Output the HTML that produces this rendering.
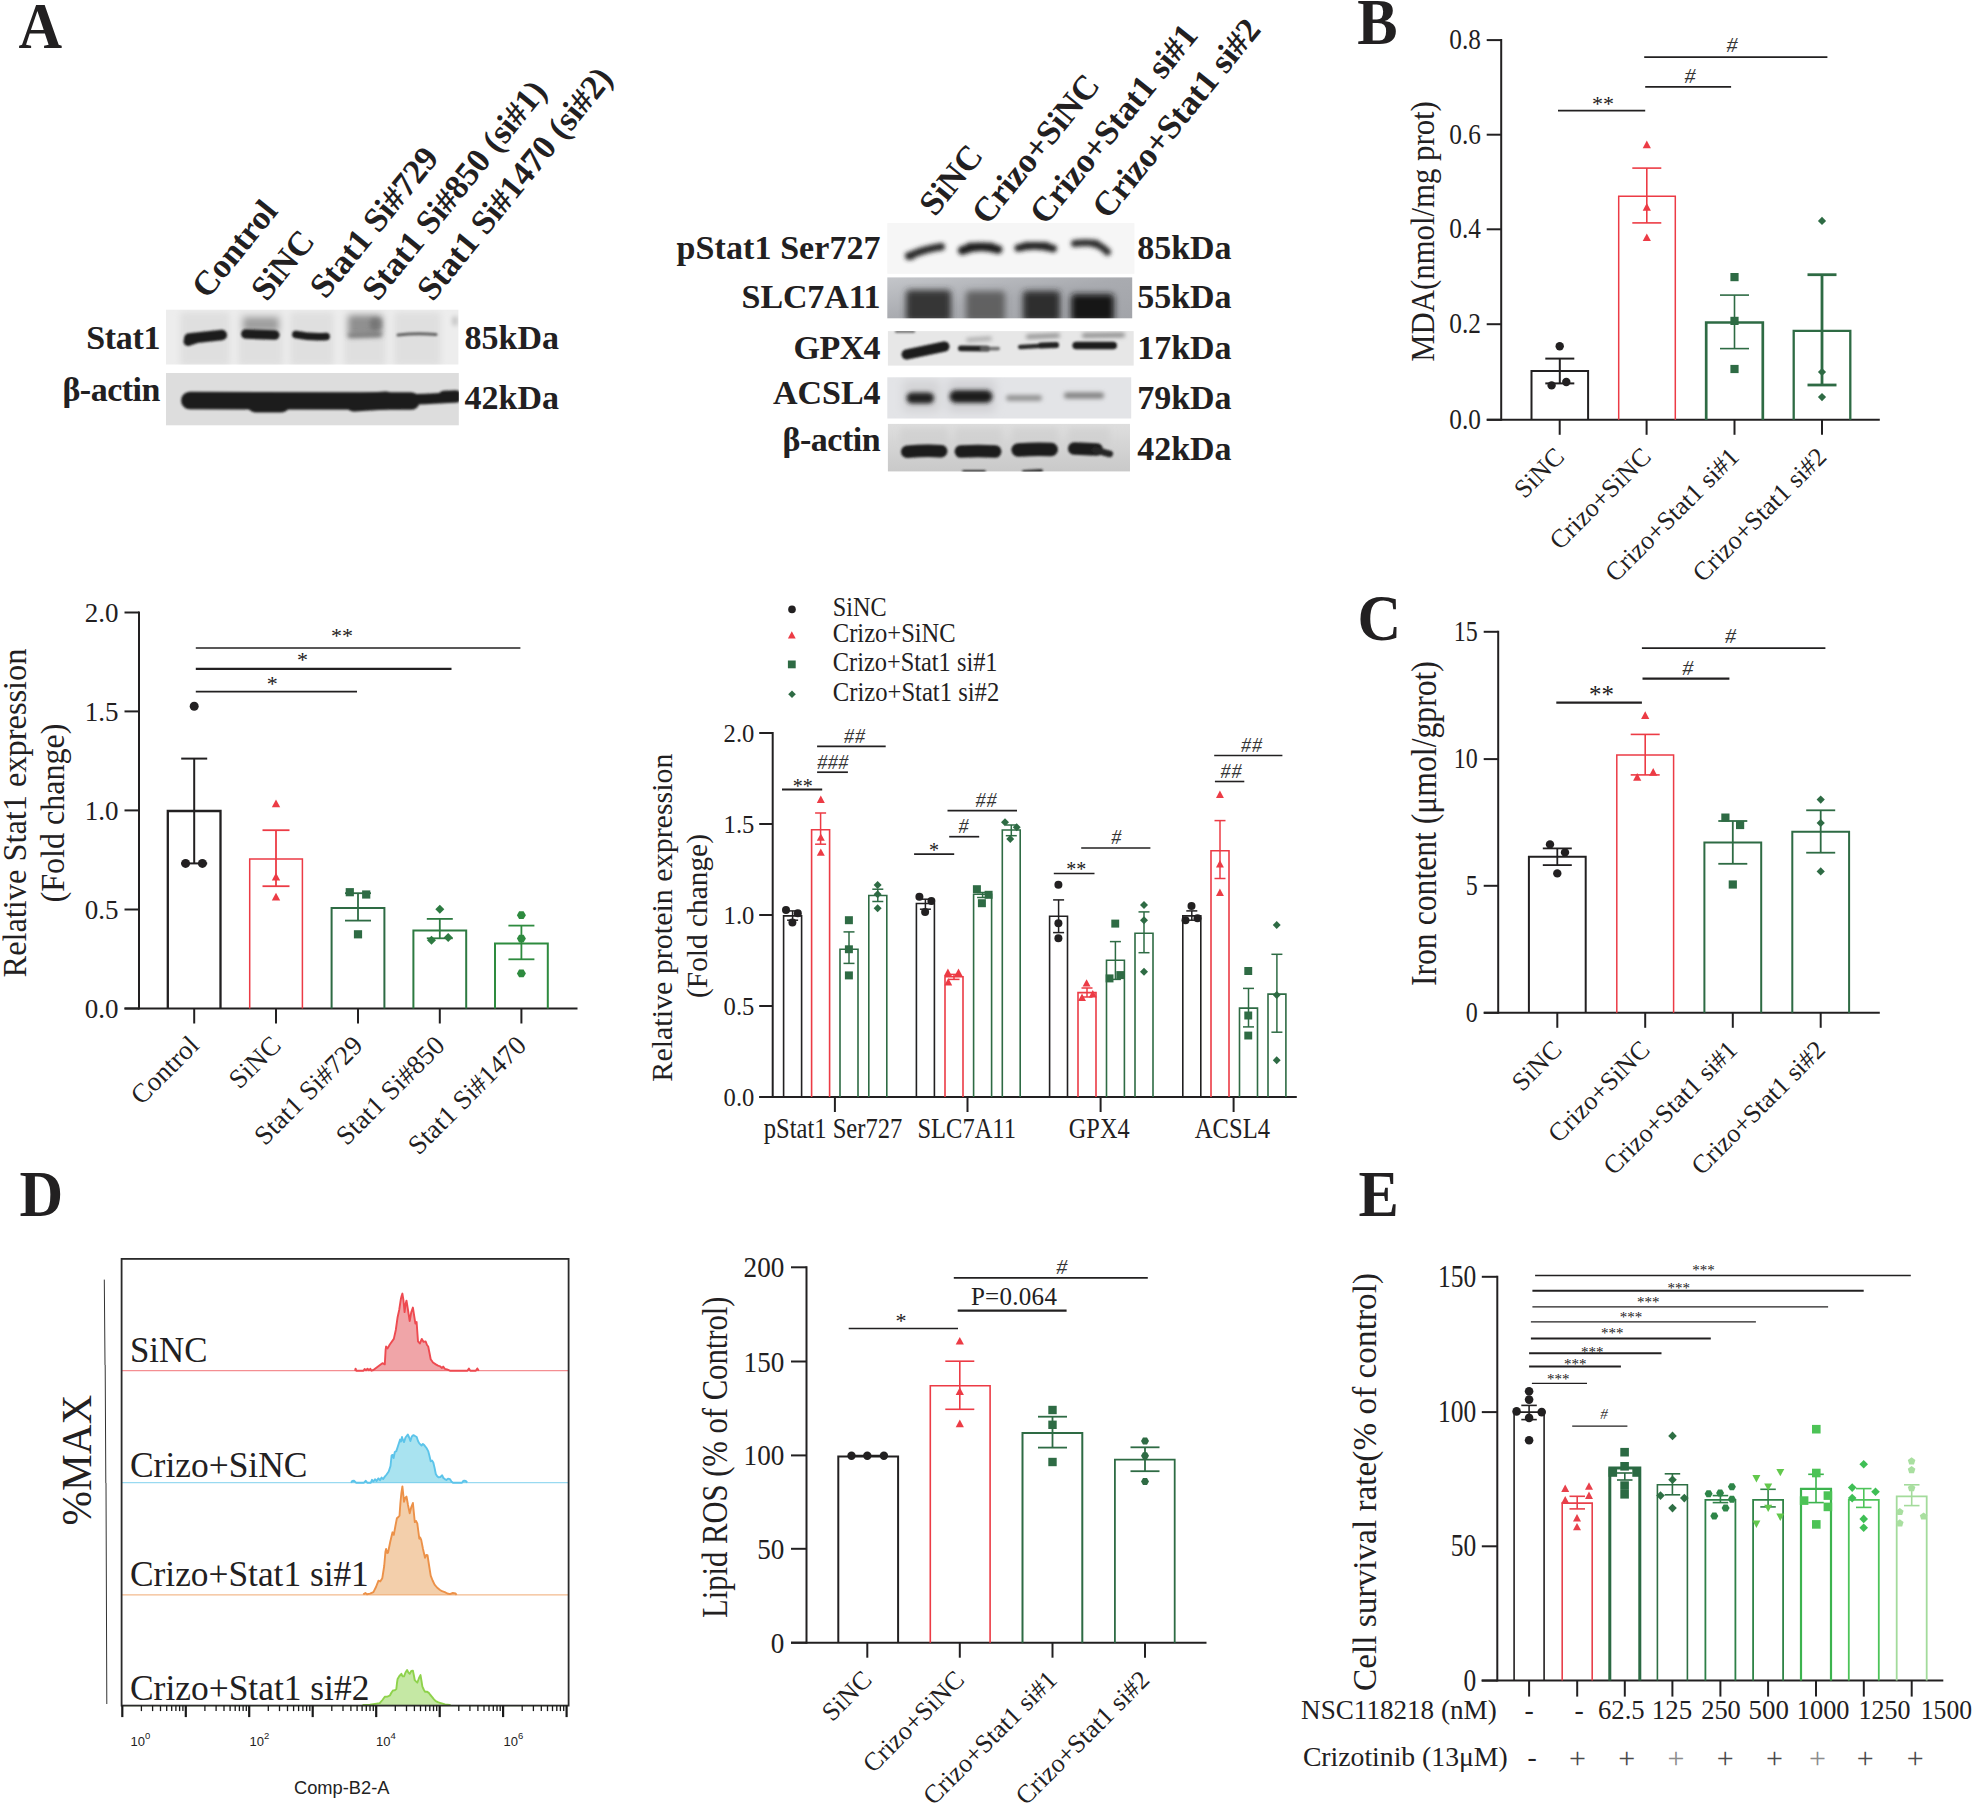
<!DOCTYPE html>
<html lang="en">
<head>
<meta charset="utf-8">
<title>Figure</title>
<style>
html,body{margin:0;padding:0;background:#fff;}
body{width:1975px;height:1804px;overflow:hidden;}
svg{display:block;font-family:'Liberation Serif','Times New Roman',serif;fill:#222021;}
</style>
</head>
<body>
<svg width="1975" height="1804" viewBox="0 0 1975 1804">
<defs>
<filter id="b05" filterUnits="userSpaceOnUse" x="150" y="200" width="1000" height="290"><feGaussianBlur stdDeviation="0.6"/></filter>
<filter id="b1" filterUnits="userSpaceOnUse" x="150" y="200" width="1000" height="290"><feGaussianBlur stdDeviation="1.1"/></filter>
<filter id="b2" filterUnits="userSpaceOnUse" x="150" y="200" width="1000" height="290"><feGaussianBlur stdDeviation="2.0"/></filter>
<filter id="b3" filterUnits="userSpaceOnUse" x="150" y="200" width="1000" height="290"><feGaussianBlur stdDeviation="3.2"/></filter>
<filter id="b5" filterUnits="userSpaceOnUse" x="150" y="200" width="1000" height="290"><feGaussianBlur stdDeviation="5.0"/></filter>
<linearGradient id="gact" x1="0" y1="0" x2="0" y2="1"><stop offset="0" stop-color="#dedede"/><stop offset="1" stop-color="#c9c9c9"/></linearGradient>
<linearGradient id="gslc" x1="0" y1="0" x2="1" y2="1"><stop offset="0" stop-color="#c4c6ca"/><stop offset="0.5" stop-color="#a9abb0"/><stop offset="1" stop-color="#a2a4a9"/></linearGradient>
</defs>
<text transform="translate(18.6,47.5) scale(0.922,1)" font-size="65.5" font-weight="bold">A</text>
<text transform="translate(1357.2,44.2) scale(0.922,1)" font-size="65.5" font-weight="bold">B</text>
<text transform="translate(1357.5,639.6) scale(0.922,1)" font-size="65.5" font-weight="bold">C</text>
<text transform="translate(19.6,1216) scale(0.922,1)" font-size="65.5" font-weight="bold">D</text>
<text transform="translate(1358.4,1216) scale(0.922,1)" font-size="65.5" font-weight="bold">E</text>
<clipPath id="bc1"><rect x="166" y="309.7" width="292.4" height="54.8"/></clipPath>
<rect x="166" y="309.7" width="292.4" height="54.8" fill="#ededed"/>
<g clip-path="url(#bc1)">
<g filter="url(#b3)">
<rect x="180" y="312" width="50" height="54" rx="4" fill="#dcdcdc" opacity="0.8"/>
<rect x="238" y="312" width="45" height="54" rx="4" fill="#dcdcdc" opacity="0.8"/>
<rect x="290" y="312" width="44" height="54" rx="4" fill="#dcdcdc" opacity="0.8"/>
<rect x="344" y="312" width="42" height="54" rx="4" fill="#dcdcdc" opacity="0.8"/>
<rect x="394" y="312" width="47" height="54" rx="4" fill="#dcdcdc" opacity="0.8"/>
<rect x="243" y="317" width="36" height="15" rx="4" fill="#8a8a8a" opacity="0.75"/>
<rect x="348" y="315" width="34" height="21" rx="4" fill="#8c8c8c" opacity="0.95"/>
</g>
<g filter="url(#b2)">
<rect x="370" y="318" width="12" height="12" rx="4" fill="#666" opacity="0.6"/>
</g>
<g filter="url(#b1)">
<path d="M189.2 338.5 Q205.5 336.8 221.8 335" fill="none" stroke="#1e1e1e" stroke-width="10.5" stroke-linecap="round" opacity="1.0"/>
<path d="M188 341.5 Q191.8 340.2 195.5 339" fill="none" stroke="#1e1e1e" stroke-width="9" stroke-linecap="round" opacity="1.0"/>
<path d="M245.8 334 Q260.2 334.5 274.8 335" fill="none" stroke="#1e1e1e" stroke-width="9.5" stroke-linecap="round" opacity="1.0"/>
<path d="M295.8 334.5 Q311 337.5 326.2 336.5" fill="none" stroke="#1e1e1e" stroke-width="7.5" stroke-linecap="round" opacity="1.0"/>
</g>
<g filter="url(#b2)">
<path d="M349.8 335.5 Q364.8 335 379.8 334.5" fill="none" stroke="#707070" stroke-width="4.5" stroke-linecap="round" opacity="0.9"/>
</g>
<g filter="url(#b1)">
<path d="M398.1 335 Q417 332.8 435.9 334.5" fill="none" stroke="#555" stroke-width="3.2" stroke-linecap="round" opacity="0.9"/>
</g>
<g filter="url(#b2)">
<rect x="452" y="316" width="6" height="10" rx="4" fill="#bdbdbd" opacity="0.8"/>
</g>
</g>
<clipPath id="bc2"><rect x="166" y="373" width="292.8" height="52.3"/></clipPath>
<rect x="166" y="373" width="292.8" height="52.3" fill="#dddddd"/>
<g clip-path="url(#bc2)">
<g filter="url(#b1)">
<path d="M189.8 400.5 Q300.5 400.8 411.2 401" fill="none" stroke="#1f1f1f" stroke-width="17.5" stroke-linecap="round" opacity="1.0"/>
<path d="M255.5 404 Q268.5 404 281.5 404" fill="none" stroke="#1f1f1f" stroke-width="17" stroke-linecap="round" opacity="1.0"/>
<path d="M354 402.5 Q370 401.5 386 400.5" fill="none" stroke="#1f1f1f" stroke-width="18" stroke-linecap="round" opacity="1.0"/>
<path d="M385.2 399.6 Q421 400 456.8 397.2" fill="none" stroke="#1f1f1f" stroke-width="10.5" stroke-linecap="round" opacity="1.0"/>
<path d="M444 396.8 Q450 396.5 456 396.2" fill="none" stroke="#1f1f1f" stroke-width="12" stroke-linecap="round" opacity="1.0"/>
</g>
</g>
<text transform="translate(160.4,349.3)" font-size="34" text-anchor="end" font-weight="bold" textLength="74.2" lengthAdjust="spacing">Stat1</text>
<text transform="translate(160.4,401)" font-size="34" text-anchor="end" font-weight="bold" textLength="98" lengthAdjust="spacing">β-actin</text>
<text transform="translate(464.6,349.3)" font-size="34" font-weight="bold" textLength="94.3" lengthAdjust="spacing">85kDa</text>
<text transform="translate(464.6,409.4)" font-size="34" font-weight="bold" textLength="94.3" lengthAdjust="spacing">42kDa</text>
<text transform="translate(207.5,300.1) rotate(-51)" font-size="34.3" font-weight="bold">Control</text>
<text transform="translate(266.8,302.5) rotate(-51)" font-size="34.3" font-weight="bold">SiNC</text>
<text transform="translate(325.5,300.1) rotate(-51)" font-size="34.3" font-weight="bold">Stat1 Si#729</text>
<text transform="translate(377.8,302.3) rotate(-51)" font-size="34.3" font-weight="bold">Stat1 Si#850 (si#1)</text>
<text transform="translate(432.8,302.5) rotate(-51)" font-size="34.3" font-weight="bold">Stat1 Si#1470 (si#2)</text>
<clipPath id="bc3"><rect x="887.3" y="223.1" width="247.1" height="50.7"/></clipPath>
<rect x="887.3" y="223.1" width="247.1" height="50.7" fill="#f6f6f6"/>
<g clip-path="url(#bc3)">
<g filter="url(#b2)">
<path d="M908.8 256 Q925 249 941.2 246.8" fill="none" stroke="#2c2c2c" stroke-width="7.5" stroke-linecap="round" opacity="1.0"/>
<rect x="905" y="252" width="10" height="8" rx="4" fill="#2a2a2a" opacity="0.8"/>
<path d="M962.2 250.5 Q980.2 243.6 998.2 249.5" fill="none" stroke="#1c1c1c" stroke-width="8.5" stroke-linecap="round" opacity="1.0"/>
<path d="M969.5 246.2 Q980.5 246.2 991.5 246.2" fill="none" stroke="#1c1c1c" stroke-width="7" stroke-linecap="round" opacity="1.0"/>
<path d="M1018.2 248 Q1035.8 243.1 1053.2 248.5" fill="none" stroke="#222" stroke-width="7.5" stroke-linecap="round" opacity="1.0"/>
<path d="M1025 245.2 Q1036 245.2 1047 245.2" fill="none" stroke="#222" stroke-width="6" stroke-linecap="round" opacity="1.0"/>
<path d="M1074.5 243.5 Q1085.5 241.9 1096.5 243.5" fill="none" stroke="#2e2e2e" stroke-width="7" stroke-linecap="round" opacity="1.0"/>
<path d="M1093.5 243.8 Q1100.5 244.9 1107.5 252" fill="none" stroke="#2e2e2e" stroke-width="7" stroke-linecap="round" opacity="1.0"/>
</g>
</g>
<clipPath id="bc4"><rect x="887.3" y="277.4" width="244.9" height="40.9"/></clipPath>
<rect x="887.3" y="277.4" width="244.9" height="40.9" fill="url(#gslc)"/>
<g clip-path="url(#bc4)">
<g filter="url(#b3)">
<rect x="906" y="290" width="45" height="32" rx="4" fill="#2e2e2e" opacity="0.95"/>
<rect x="966" y="291" width="39" height="31" rx="4" fill="#5a5a5a" opacity="0.9"/>
<rect x="1023" y="291" width="37" height="31" rx="4" fill="#262626" opacity="0.95"/>
<rect x="1071" y="294" width="43" height="28" rx="4" fill="#161616" opacity="1.0"/>
</g>
</g>
<clipPath id="bc5"><rect x="887.9" y="331.1" width="245.8" height="34.5"/></clipPath>
<rect x="887.9" y="331.1" width="245.8" height="34.5" fill="#e7e7e7"/>
<g clip-path="url(#bc5)">
<g filter="url(#b1)">
<path d="M906.5 354.5 Q925.5 350.5 944.5 346.5" fill="none" stroke="#1c1c1c" stroke-width="10" stroke-linecap="round" opacity="1.0"/>
<path d="M960.9 348.3 Q974 348.5 987.1 348.6" fill="none" stroke="#222" stroke-width="5.8" stroke-linecap="round" opacity="1.0"/>
<path d="M981.8 348.6 Q990 348.6 998.2 348.6" fill="none" stroke="#666" stroke-width="3.6" stroke-linecap="round" opacity="0.9"/>
<path d="M1020.2 347 Q1038.5 346 1056.8 345" fill="none" stroke="#2a2a2a" stroke-width="4.5" stroke-linecap="round" opacity="1.0"/>
<path d="M1041 345.5 Q1048.5 345.2 1056 345" fill="none" stroke="#222" stroke-width="6" stroke-linecap="round" opacity="1.0"/>
<path d="M1076.2 345.5 Q1094.8 345.5 1113.2 345.5" fill="none" stroke="#1c1c1c" stroke-width="7.5" stroke-linecap="round" opacity="1.0"/>
</g>
<g filter="url(#b2)">
<path d="M1028 336.8 Q1043 336.2 1058 335.6" fill="none" stroke="#7d7d7d" stroke-width="4" stroke-linecap="round" opacity="0.9"/>
<path d="M1084 335.6 Q1103.5 335.3 1123 335" fill="none" stroke="#747474" stroke-width="4" stroke-linecap="round" opacity="0.9"/>
<path d="M967.8 340 Q979 339.3 990.2 338.6" fill="none" stroke="#9a9a9a" stroke-width="3.5" stroke-linecap="round" opacity="0.9"/>
</g>
<g filter="url(#b1)">
<path d="M896.2 331.5 Q905 331.5 913.8 331.5" fill="none" stroke="#555" stroke-width="2.5" stroke-linecap="round" opacity="0.9"/>
</g>
</g>
<clipPath id="bc6"><rect x="887.3" y="377.3" width="243.9" height="41.2"/></clipPath>
<rect x="887.3" y="377.3" width="243.9" height="41.2" fill="#e3e4e7"/>
<g clip-path="url(#bc6)">
<g filter="url(#b5)">
<rect x="903" y="380" width="37" height="32" rx="4" fill="#cfcfd2" opacity="0.8"/>
<rect x="948" y="380" width="47" height="32" rx="4" fill="#cccccf" opacity="0.8"/>
</g>
<g filter="url(#b2)">
<path d="M912 398 Q920.2 398 928.5 398" fill="none" stroke="#222" stroke-width="11" stroke-linecap="round" opacity="1.0"/>
<path d="M955.8 396.5 Q971 396.5 986.2 396.5" fill="none" stroke="#1c1c1c" stroke-width="12.5" stroke-linecap="round" opacity="1.0"/>
<path d="M1008.8 398 Q1024 398 1039.2 398" fill="none" stroke="#8e8e8e" stroke-width="5.5" stroke-linecap="round" opacity="1.0"/>
<path d="M1067 395.5 Q1084 395.5 1101 395.5" fill="none" stroke="#808080" stroke-width="6" stroke-linecap="round" opacity="1.0"/>
</g>
</g>
<clipPath id="bc7"><rect x="887.9" y="423.9" width="242.1" height="47.5"/></clipPath>
<rect x="887.9" y="423.9" width="242.1" height="47.5" fill="url(#gact)"/>
<g clip-path="url(#bc7)">
<g filter="url(#b3)">
<rect x="900" y="428" width="48" height="18" rx="4" fill="#cfcfcf" opacity="0.7"/>
<rect x="955" y="428" width="47" height="18" rx="4" fill="#cfcfcf" opacity="0.7"/>
<rect x="1012" y="428" width="46" height="18" rx="4" fill="#cfcfcf" opacity="0.7"/>
<rect x="1068" y="428" width="42" height="18" rx="4" fill="#cfcfcf" opacity="0.7"/>
</g>
<g filter="url(#b1)">
<path d="M907.2 451.8 Q924.2 450.3 941.2 451.2" fill="none" stroke="#1c1c1c" stroke-width="12.5" stroke-linecap="round" opacity="1.0"/>
<path d="M960.8 451.5 Q978 450.5 995.2 451.5" fill="none" stroke="#1c1c1c" stroke-width="12.5" stroke-linecap="round" opacity="1.0"/>
<path d="M1018.2 450 Q1034.8 448.8 1051.2 449.5" fill="none" stroke="#1c1c1c" stroke-width="13.5" stroke-linecap="round" opacity="1.0"/>
<path d="M1074.2 448.5 Q1085.5 449 1096.8 449.5" fill="none" stroke="#1c1c1c" stroke-width="12.5" stroke-linecap="round" opacity="1.0"/>
<path d="M1095.2 450 Q1102.5 452 1109.8 454" fill="none" stroke="#262626" stroke-width="6.5" stroke-linecap="round" opacity="1.0"/>
<path d="M964 472 Q974 472 984 472" fill="none" stroke="#333" stroke-width="4" stroke-linecap="round" opacity="1.0"/>
<path d="M1024 472 Q1032.5 471.5 1041 471" fill="none" stroke="#333" stroke-width="4" stroke-linecap="round" opacity="1.0"/>
</g>
</g>
<text transform="translate(880.6,259)" font-size="34" text-anchor="end" font-weight="bold" textLength="204" lengthAdjust="spacing">pStat1 Ser727</text>
<text transform="translate(880.6,308)" font-size="34" text-anchor="end" font-weight="bold" textLength="139" lengthAdjust="spacing">SLC7A11</text>
<text transform="translate(880.6,359.3)" font-size="34" text-anchor="end" font-weight="bold" textLength="87" lengthAdjust="spacing">GPX4</text>
<text transform="translate(880.6,404.4)" font-size="34" text-anchor="end" font-weight="bold" textLength="107.5" lengthAdjust="spacing">ACSL4</text>
<text transform="translate(880.6,451.2)" font-size="34" text-anchor="end" font-weight="bold" textLength="98" lengthAdjust="spacing">β-actin</text>
<text transform="translate(1137.3,259)" font-size="34" font-weight="bold" textLength="94.3" lengthAdjust="spacing">85kDa</text>
<text transform="translate(1137.3,308)" font-size="34" font-weight="bold" textLength="94.3" lengthAdjust="spacing">55kDa</text>
<text transform="translate(1137.3,359.3)" font-size="34" font-weight="bold" textLength="94.3" lengthAdjust="spacing">17kDa</text>
<text transform="translate(1137.3,409.4)" font-size="34" font-weight="bold" textLength="94.3" lengthAdjust="spacing">79kDa</text>
<text transform="translate(1137.3,459.6)" font-size="34" font-weight="bold" textLength="94.3" lengthAdjust="spacing">42kDa</text>
<text transform="translate(935,217.5) rotate(-51)" font-size="34.5" font-weight="bold">SiNC</text>
<text transform="translate(987.4,226.2) rotate(-51)" font-size="34.5" font-weight="bold">Crizo+SiNC</text>
<text transform="translate(1045.4,226.2) rotate(-51)" font-size="34.5" font-weight="bold">Crizo+Stat1 si#1</text>
<text transform="translate(1108,220.5) rotate(-51)" font-size="34.5" font-weight="bold">Crizo+Stat1 si#2</text>
<line x1="139" y1="611.5" x2="139" y2="1009.5" stroke="#222021" stroke-width="2"/>
<line x1="124.5" y1="1008.5" x2="577.5" y2="1008.5" stroke="#222021" stroke-width="2"/>
<line x1="124.5" y1="612.5" x2="139" y2="612.5" stroke="#222021" stroke-width="2"/>
<text transform="translate(118.6,621.7)" font-size="27" text-anchor="end">2.0</text>
<line x1="124.5" y1="711.4" x2="139" y2="711.4" stroke="#222021" stroke-width="2"/>
<text transform="translate(118.6,720.6)" font-size="27" text-anchor="end">1.5</text>
<line x1="124.5" y1="810.4" x2="139" y2="810.4" stroke="#222021" stroke-width="2"/>
<text transform="translate(118.6,819.6)" font-size="27" text-anchor="end">1.0</text>
<line x1="124.5" y1="909.5" x2="139" y2="909.5" stroke="#222021" stroke-width="2"/>
<text transform="translate(118.6,918.7)" font-size="27" text-anchor="end">0.5</text>
<line x1="124.5" y1="1008.5" x2="139" y2="1008.5" stroke="#222021" stroke-width="2"/>
<text transform="translate(118.6,1017.7)" font-size="27" text-anchor="end">0.0</text>
<line x1="194.2" y1="1008.5" x2="194.2" y2="1023.5" stroke="#222021" stroke-width="2"/>
<line x1="276" y1="1008.5" x2="276" y2="1023.5" stroke="#222021" stroke-width="2"/>
<line x1="358" y1="1008.5" x2="358" y2="1023.5" stroke="#222021" stroke-width="2"/>
<line x1="439.8" y1="1008.5" x2="439.8" y2="1023.5" stroke="#222021" stroke-width="2"/>
<line x1="521.4" y1="1008.5" x2="521.4" y2="1023.5" stroke="#222021" stroke-width="2"/>
<line x1="194.2" y1="758.6" x2="194.2" y2="863.4" stroke="#222021" stroke-width="2"/>
<line x1="181.2" y1="758.6" x2="207.2" y2="758.6" stroke="#222021" stroke-width="2"/>
<line x1="181.2" y1="863.4" x2="207.2" y2="863.4" stroke="#222021" stroke-width="2"/>
<path d="M167.8 1008.5 V811 H220.5 V1008.5" fill="none" stroke="#222021" stroke-width="2.3"/>
<circle cx="194.2" cy="706.3" r="4.5" fill="#222021"/>
<circle cx="185.6" cy="863.4" r="4.5" fill="#222021"/>
<circle cx="202.4" cy="863.4" r="4.5" fill="#222021"/>
<path d="M249.7 1008.5 V859 H302.4 V1008.5" fill="none" stroke="#ec3b45" stroke-width="1.5"/>
<line x1="276" y1="830.2" x2="276" y2="886.2" stroke="#ec3b45" stroke-width="1.8"/>
<line x1="262.5" y1="830.2" x2="289.5" y2="830.2" stroke="#ec3b45" stroke-width="1.8"/>
<line x1="262.5" y1="886.2" x2="289.5" y2="886.2" stroke="#ec3b45" stroke-width="1.8"/>
<polygon points="276,799.4 280.2,807.2 271.8,807.2" fill="#ec3b45"/>
<polygon points="276,872.8 280.2,880.6 271.8,880.6" fill="#ec3b45"/>
<polygon points="276,892.8 280.2,900.6 271.8,900.6" fill="#ec3b45"/>
<path d="M331.6 1008.5 V908 H384.4 V1008.5" fill="none" stroke="#2e6b44" stroke-width="2"/>
<line x1="358" y1="893.2" x2="358" y2="920.6" stroke="#2e6b44" stroke-width="1.8"/>
<line x1="345" y1="893.2" x2="371" y2="893.2" stroke="#2e6b44" stroke-width="1.8"/>
<line x1="345" y1="920.6" x2="371" y2="920.6" stroke="#2e6b44" stroke-width="1.8"/>
<polygon points="345.7,888.1 353.9,888.1 353.9,896.3 345.7,896.3" fill="#2e6b44"/>
<polygon points="362.1,890.4 370.3,890.4 370.3,898.6 362.1,898.6" fill="#2e6b44"/>
<polygon points="353.9,930.2 362.1,930.2 362.1,938.4 353.9,938.4" fill="#2e6b44"/>
<path d="M413.4 1008.5 V930.4 H466.2 V1008.5" fill="none" stroke="#2d7a41" stroke-width="2"/>
<line x1="439.8" y1="918.9" x2="439.8" y2="938.3" stroke="#2d7a41" stroke-width="1.8"/>
<line x1="426.8" y1="918.9" x2="452.8" y2="918.9" stroke="#2d7a41" stroke-width="1.8"/>
<line x1="426.8" y1="938.3" x2="452.8" y2="938.3" stroke="#2d7a41" stroke-width="1.8"/>
<polygon points="439.8,904.7 444.3,909.2 439.8,913.7 435.3,909.2" fill="#2d7a41"/>
<polygon points="431.5,935.8 436,940.3 431.5,944.8 427,940.3" fill="#2d7a41"/>
<polygon points="448.2,933.1 452.7,937.6 448.2,942.1 443.7,937.6" fill="#2d7a41"/>
<path d="M495 1008.5 V943.6 H547.8 V1008.5" fill="none" stroke="#2e8b3f" stroke-width="2"/>
<line x1="521.4" y1="925.6" x2="521.4" y2="959.3" stroke="#2e8b3f" stroke-width="1.8"/>
<line x1="508.4" y1="925.6" x2="534.4" y2="925.6" stroke="#2e8b3f" stroke-width="1.8"/>
<line x1="508.4" y1="959.3" x2="534.4" y2="959.3" stroke="#2e8b3f" stroke-width="1.8"/>
<polygon points="525.9,915.2 523.6,919.1 519.1,919.1 516.9,915.2 519.1,911.3 523.6,911.3" fill="#2e8b3f"/>
<polygon points="525.9,938.6 523.6,942.5 519.1,942.5 516.9,938.6 519.1,934.7 523.6,934.7" fill="#2e8b3f"/>
<polygon points="525.9,973.4 523.6,977.3 519.1,977.3 516.9,973.4 519.1,969.5 523.6,969.5" fill="#2e8b3f"/>
<line x1="195.8" y1="647.9" x2="520.4" y2="647.9" stroke="#222021" stroke-width="1.5"/>
<text transform="translate(342,643)" font-size="22" text-anchor="middle">**</text>
<line x1="195.8" y1="668.8" x2="451.5" y2="668.8" stroke="#222021" stroke-width="2.3"/>
<text transform="translate(302.6,667)" font-size="22" text-anchor="middle">*</text>
<line x1="195.8" y1="691.6" x2="357" y2="691.6" stroke="#222021" stroke-width="1.7"/>
<text transform="translate(272.3,690.5)" font-size="22" text-anchor="middle">*</text>
<text transform="translate(200.6,1047) rotate(-45)" font-size="27" text-anchor="end" textLength="83.6" lengthAdjust="spacing">Control</text>
<text transform="translate(282.4,1047) rotate(-45)" font-size="27" text-anchor="end" textLength="60.8" lengthAdjust="spacing">SiNC</text>
<text transform="translate(364.4,1047) rotate(-45)" font-size="27" text-anchor="end" textLength="140.6" lengthAdjust="spacing">Stat1 Si#729</text>
<text transform="translate(446.2,1047) rotate(-45)" font-size="27" text-anchor="end" textLength="140.6" lengthAdjust="spacing">Stat1 Si#850</text>
<text transform="translate(527.8,1047) rotate(-45)" font-size="27" text-anchor="end" textLength="154.3" lengthAdjust="spacing">Stat1 Si#1470</text>
<text transform="translate(25.9,813) rotate(-90) scale(0.981,1)" font-size="33" text-anchor="middle">Relative Stat1 expression</text>
<text transform="translate(64.3,813) rotate(-90) scale(0.972,1)" font-size="33" text-anchor="middle">(Fold change)</text>
<line x1="772.7" y1="732" x2="772.7" y2="1098" stroke="#222021" stroke-width="2"/>
<line x1="759.4" y1="1097" x2="1296.8" y2="1097" stroke="#222021" stroke-width="2"/>
<line x1="759.2" y1="733" x2="772.7" y2="733" stroke="#222021" stroke-width="2"/>
<text transform="translate(754.3,741.6) scale(0.945,1)" font-size="26" text-anchor="end">2.0</text>
<line x1="759.2" y1="824" x2="772.7" y2="824" stroke="#222021" stroke-width="2"/>
<text transform="translate(754.3,832.6) scale(0.945,1)" font-size="26" text-anchor="end">1.5</text>
<line x1="759.2" y1="915" x2="772.7" y2="915" stroke="#222021" stroke-width="2"/>
<text transform="translate(754.3,923.6) scale(0.945,1)" font-size="26" text-anchor="end">1.0</text>
<line x1="759.2" y1="1006" x2="772.7" y2="1006" stroke="#222021" stroke-width="2"/>
<text transform="translate(754.3,1014.6) scale(0.945,1)" font-size="26" text-anchor="end">0.5</text>
<line x1="759.2" y1="1097" x2="772.7" y2="1097" stroke="#222021" stroke-width="2"/>
<text transform="translate(754.3,1105.6) scale(0.945,1)" font-size="26" text-anchor="end">0.0</text>
<line x1="834.9" y1="1097" x2="834.9" y2="1112" stroke="#222021" stroke-width="2"/>
<line x1="967.5" y1="1097" x2="967.5" y2="1112" stroke="#222021" stroke-width="2"/>
<line x1="1100.6" y1="1097" x2="1100.6" y2="1112" stroke="#222021" stroke-width="2"/>
<line x1="1233.6" y1="1097" x2="1233.6" y2="1112" stroke="#222021" stroke-width="2"/>
<path d="M783.6 1097 V915.9 H801.6 V1097" fill="none" stroke="#222021" stroke-width="1.6"/>
<line x1="792.6" y1="910.9" x2="792.6" y2="920.2" stroke="#222021" stroke-width="1.5"/>
<line x1="787.1" y1="910.9" x2="798.1" y2="910.9" stroke="#222021" stroke-width="1.5"/>
<line x1="787.1" y1="920.2" x2="798.1" y2="920.2" stroke="#222021" stroke-width="1.5"/>
<circle cx="786" cy="909.9" r="4" fill="#222021"/>
<circle cx="797.8" cy="913.2" r="4" fill="#222021"/>
<circle cx="792.4" cy="922.6" r="4" fill="#222021"/>
<path d="M811.6 1097 V829.7 H829.6 V1097" fill="none" stroke="#ec3b45" stroke-width="1.6"/>
<line x1="820.6" y1="813" x2="820.6" y2="844.2" stroke="#ec3b45" stroke-width="1.5"/>
<line x1="815.1" y1="813" x2="826.1" y2="813" stroke="#ec3b45" stroke-width="1.5"/>
<line x1="815.1" y1="844.2" x2="826.1" y2="844.2" stroke="#ec3b45" stroke-width="1.5"/>
<polygon points="820.8,795.6 824.8,803 816.8,803" fill="#ec3b45"/>
<polygon points="820.8,833.4 824.8,840.8 816.8,840.8" fill="#ec3b45"/>
<polygon points="820.8,848.4 824.8,855.8 816.8,855.8" fill="#ec3b45"/>
<path d="M840 1097 V949.3 H858 V1097" fill="none" stroke="#2e6b44" stroke-width="1.6"/>
<line x1="849" y1="931.9" x2="849" y2="963.4" stroke="#2e6b44" stroke-width="1.5"/>
<line x1="843.5" y1="931.9" x2="854.5" y2="931.9" stroke="#2e6b44" stroke-width="1.5"/>
<line x1="843.5" y1="963.4" x2="854.5" y2="963.4" stroke="#2e6b44" stroke-width="1.5"/>
<polygon points="844.9,916.2 852.9,916.2 852.9,924.2 844.9,924.2" fill="#2e6b44"/>
<polygon points="844.9,945.3 852.9,945.3 852.9,953.2 844.9,953.2" fill="#2e6b44"/>
<polygon points="844.9,971.4 852.9,971.4 852.9,979.4 844.9,979.4" fill="#2e6b44"/>
<path d="M868.8 1097 V895.5 H886.8 V1097" fill="none" stroke="#2e6b44" stroke-width="1.6"/>
<line x1="877.8" y1="889.2" x2="877.8" y2="901.5" stroke="#2e6b44" stroke-width="1.5"/>
<line x1="872.3" y1="889.2" x2="883.3" y2="889.2" stroke="#2e6b44" stroke-width="1.5"/>
<line x1="872.3" y1="901.5" x2="883.3" y2="901.5" stroke="#2e6b44" stroke-width="1.5"/>
<polygon points="877.6,881.1 881.6,885.1 877.6,889.1 873.6,885.1" fill="#2e6b44"/>
<polygon points="877.6,890.2 881.6,894.2 877.6,898.2 873.6,894.2" fill="#2e6b44"/>
<polygon points="877.6,904.2 881.6,908.2 877.6,912.2 873.6,908.2" fill="#2e6b44"/>
<path d="M916.4 1097 V903.5 H934.4 V1097" fill="none" stroke="#222021" stroke-width="1.6"/>
<line x1="925.4" y1="899.2" x2="925.4" y2="909.2" stroke="#222021" stroke-width="1.5"/>
<line x1="919.9" y1="899.2" x2="930.9" y2="899.2" stroke="#222021" stroke-width="1.5"/>
<line x1="919.9" y1="909.2" x2="930.9" y2="909.2" stroke="#222021" stroke-width="1.5"/>
<circle cx="919.4" cy="896.8" r="4" fill="#222021"/>
<circle cx="931.4" cy="900.9" r="4" fill="#222021"/>
<circle cx="925.1" cy="911.9" r="4" fill="#222021"/>
<path d="M945 1097 V976.7 H963 V1097" fill="none" stroke="#ec3b45" stroke-width="1.6"/>
<line x1="954" y1="974.4" x2="954" y2="979.4" stroke="#ec3b45" stroke-width="1.5"/>
<line x1="948.5" y1="974.4" x2="959.5" y2="974.4" stroke="#ec3b45" stroke-width="1.5"/>
<line x1="948.5" y1="979.4" x2="959.5" y2="979.4" stroke="#ec3b45" stroke-width="1.5"/>
<polygon points="947.9,968.5 951.9,975.9 943.9,975.9" fill="#ec3b45"/>
<polygon points="958.5,968.5 962.5,975.9 954.5,975.9" fill="#ec3b45"/>
<polygon points="948.3,978 952.2,985.4 944.3,985.4" fill="#ec3b45"/>
<path d="M973.6 1097 V894.2 H991.6 V1097" fill="none" stroke="#2e6b44" stroke-width="1.6"/>
<line x1="982.6" y1="892.5" x2="982.6" y2="897.5" stroke="#2e6b44" stroke-width="1.5"/>
<line x1="977.1" y1="892.5" x2="988.1" y2="892.5" stroke="#2e6b44" stroke-width="1.5"/>
<line x1="977.1" y1="897.5" x2="988.1" y2="897.5" stroke="#2e6b44" stroke-width="1.5"/>
<polygon points="972.9,885.2 980.9,885.2 980.9,893.2 972.9,893.2" fill="#2e6b44"/>
<polygon points="984.6,890.8 992.6,890.8 992.6,898.8 984.6,898.8" fill="#2e6b44"/>
<polygon points="977.9,899.2 985.9,899.2 985.9,907.2 977.9,907.2" fill="#2e6b44"/>
<path d="M1002.3 1097 V830 H1020.2 V1097" fill="none" stroke="#2e6b44" stroke-width="1.6"/>
<line x1="1011.3" y1="825" x2="1011.3" y2="835.7" stroke="#2e6b44" stroke-width="1.5"/>
<line x1="1005.8" y1="825" x2="1016.8" y2="825" stroke="#2e6b44" stroke-width="1.5"/>
<line x1="1005.8" y1="835.7" x2="1016.8" y2="835.7" stroke="#2e6b44" stroke-width="1.5"/>
<polygon points="1005,818.3 1009,822.3 1005,826.2 1001,822.3" fill="#2e6b44"/>
<polygon points="1016.7,823.3 1020.7,827.3 1016.7,831.2 1012.8,827.3" fill="#2e6b44"/>
<polygon points="1010.3,835 1014.2,839 1010.3,843 1006.3,839" fill="#2e6b44"/>
<path d="M1049.6 1097 V916.2 H1067.5 V1097" fill="none" stroke="#222021" stroke-width="1.6"/>
<line x1="1058.6" y1="899.9" x2="1058.6" y2="932.6" stroke="#222021" stroke-width="1.5"/>
<line x1="1053.1" y1="899.9" x2="1064.1" y2="899.9" stroke="#222021" stroke-width="1.5"/>
<line x1="1053.1" y1="932.6" x2="1064.1" y2="932.6" stroke="#222021" stroke-width="1.5"/>
<circle cx="1058.4" cy="884.8" r="4" fill="#222021"/>
<circle cx="1058.4" cy="923.2" r="4" fill="#222021"/>
<circle cx="1058.4" cy="938.3" r="4" fill="#222021"/>
<path d="M1078 1097 V992.6 H1096 V1097" fill="none" stroke="#ec3b45" stroke-width="1.6"/>
<line x1="1087" y1="988" x2="1087" y2="997" stroke="#ec3b45" stroke-width="1.5"/>
<line x1="1081.5" y1="988" x2="1092.5" y2="988" stroke="#ec3b45" stroke-width="1.5"/>
<line x1="1081.5" y1="997" x2="1092.5" y2="997" stroke="#ec3b45" stroke-width="1.5"/>
<polygon points="1086.6,979.2 1090.5,986.6 1082.6,986.6" fill="#ec3b45"/>
<polygon points="1082,993.5 1086,1000.9 1078,1000.9" fill="#ec3b45"/>
<polygon points="1092.8,990 1096.8,997.4 1088.8,997.4" fill="#ec3b45"/>
<path d="M1106.5 1097 V960.3 H1124.4 V1097" fill="none" stroke="#2e6b44" stroke-width="1.6"/>
<line x1="1115.4" y1="941.6" x2="1115.4" y2="979.4" stroke="#2e6b44" stroke-width="1.5"/>
<line x1="1109.9" y1="941.6" x2="1120.9" y2="941.6" stroke="#2e6b44" stroke-width="1.5"/>
<line x1="1109.9" y1="979.4" x2="1120.9" y2="979.4" stroke="#2e6b44" stroke-width="1.5"/>
<polygon points="1111.3,919.6 1119.2,919.6 1119.2,927.6 1111.3,927.6" fill="#2e6b44"/>
<polygon points="1105.6,974.4 1113.5,974.4 1113.5,982.4 1105.6,982.4" fill="#2e6b44"/>
<polygon points="1116.3,971.1 1124.2,971.1 1124.2,979.1 1116.3,979.1" fill="#2e6b44"/>
<path d="M1135 1097 V933.3 H1153 V1097" fill="none" stroke="#2e6b44" stroke-width="1.6"/>
<line x1="1144" y1="911.9" x2="1144" y2="952.7" stroke="#2e6b44" stroke-width="1.5"/>
<line x1="1138.5" y1="911.9" x2="1149.5" y2="911.9" stroke="#2e6b44" stroke-width="1.5"/>
<line x1="1138.5" y1="952.7" x2="1149.5" y2="952.7" stroke="#2e6b44" stroke-width="1.5"/>
<polygon points="1144,900.9 1148,904.9 1144,908.9 1140,904.9" fill="#2e6b44"/>
<polygon points="1144,916.2 1148,920.2 1144,924.2 1140,920.2" fill="#2e6b44"/>
<polygon points="1144,967.8 1148,971.7 1144,975.7 1140,971.7" fill="#2e6b44"/>
<path d="M1182.8 1097 V915.9 H1200.8 V1097" fill="none" stroke="#222021" stroke-width="1.6"/>
<line x1="1191.8" y1="910.9" x2="1191.8" y2="920.2" stroke="#222021" stroke-width="1.5"/>
<line x1="1186.3" y1="910.9" x2="1197.3" y2="910.9" stroke="#222021" stroke-width="1.5"/>
<line x1="1186.3" y1="920.2" x2="1197.3" y2="920.2" stroke="#222021" stroke-width="1.5"/>
<circle cx="1191.5" cy="905.9" r="4" fill="#222021"/>
<circle cx="1185.5" cy="920.2" r="4" fill="#222021"/>
<circle cx="1197.5" cy="918.2" r="4" fill="#222021"/>
<path d="M1211 1097 V850.7 H1229 V1097" fill="none" stroke="#ec3b45" stroke-width="1.6"/>
<line x1="1220" y1="820.6" x2="1220" y2="878.5" stroke="#ec3b45" stroke-width="1.5"/>
<line x1="1214.5" y1="820.6" x2="1225.5" y2="820.6" stroke="#ec3b45" stroke-width="1.5"/>
<line x1="1214.5" y1="878.5" x2="1225.5" y2="878.5" stroke="#ec3b45" stroke-width="1.5"/>
<polygon points="1219.9,790.6 1223.9,798 1216,798" fill="#ec3b45"/>
<polygon points="1219.9,860.1 1223.9,867.5 1216,867.5" fill="#ec3b45"/>
<polygon points="1219.9,888.5 1223.9,895.9 1216,895.9" fill="#ec3b45"/>
<path d="M1239.5 1097 V1008.1 H1257.5 V1097" fill="none" stroke="#2e6b44" stroke-width="1.6"/>
<line x1="1248.5" y1="988.4" x2="1248.5" y2="1026.9" stroke="#2e6b44" stroke-width="1.5"/>
<line x1="1243" y1="988.4" x2="1254" y2="988.4" stroke="#2e6b44" stroke-width="1.5"/>
<line x1="1243" y1="1026.9" x2="1254" y2="1026.9" stroke="#2e6b44" stroke-width="1.5"/>
<polygon points="1244.3,967 1252.2,967 1252.2,975 1244.3,975" fill="#2e6b44"/>
<polygon points="1244.3,1011.5 1252.2,1011.5 1252.2,1019.5 1244.3,1019.5" fill="#2e6b44"/>
<polygon points="1244.3,1031.6 1252.2,1031.6 1252.2,1039.5 1244.3,1039.5" fill="#2e6b44"/>
<path d="M1268 1097 V994.1 H1285.9 V1097" fill="none" stroke="#2e6b44" stroke-width="1.6"/>
<line x1="1276.9" y1="954.3" x2="1276.9" y2="1032.2" stroke="#2e6b44" stroke-width="1.5"/>
<line x1="1271.4" y1="954.3" x2="1282.4" y2="954.3" stroke="#2e6b44" stroke-width="1.5"/>
<line x1="1271.4" y1="1032.2" x2="1282.4" y2="1032.2" stroke="#2e6b44" stroke-width="1.5"/>
<polygon points="1276.7,920.9 1280.7,924.9 1276.7,928.9 1272.8,924.9" fill="#2e6b44"/>
<polygon points="1276.7,991.1 1280.7,995.1 1276.7,999.1 1272.8,995.1" fill="#2e6b44"/>
<polygon points="1276.7,1056.3 1280.7,1060.3 1276.7,1064.2 1272.8,1060.3" fill="#2e6b44"/>
<line x1="782" y1="789.6" x2="822.2" y2="789.6" stroke="#222021" stroke-width="2"/>
<text transform="translate(802.8,792.5)" font-size="20" text-anchor="middle">**</text>
<line x1="817.1" y1="772.2" x2="847.9" y2="772.2" stroke="#222021" stroke-width="1.7"/>
<text transform="translate(832.8,769)" font-size="20" font-style="italic" text-anchor="middle" fill="#333" textLength="31" lengthAdjust="spacing">###</text>
<line x1="817.1" y1="746.4" x2="885.7" y2="746.4" stroke="#222021" stroke-width="1.7"/>
<text transform="translate(854.6,742.5)" font-size="20" font-style="italic" text-anchor="middle" fill="#333" textLength="21" lengthAdjust="spacing">##</text>
<line x1="914.1" y1="854.1" x2="954.2" y2="854.1" stroke="#222021" stroke-width="1.7"/>
<text transform="translate(934.1,856.5)" font-size="20" text-anchor="middle">*</text>
<line x1="949.2" y1="836.7" x2="979.2" y2="836.7" stroke="#222021" stroke-width="1.7"/>
<text transform="translate(963.5,832.5)" font-size="20" font-style="italic" text-anchor="middle" fill="#333">#</text>
<line x1="947.5" y1="810.6" x2="1017" y2="810.6" stroke="#222021" stroke-width="1.7"/>
<text transform="translate(985.9,806.5)" font-size="20" font-style="italic" text-anchor="middle" fill="#333" textLength="21" lengthAdjust="spacing">##</text>
<line x1="1053.8" y1="873.5" x2="1094.5" y2="873.5" stroke="#222021" stroke-width="1.7"/>
<text transform="translate(1076.2,875.5)" font-size="20" text-anchor="middle">**</text>
<line x1="1081.2" y1="848" x2="1150.4" y2="848" stroke="#222021" stroke-width="1.7"/>
<text transform="translate(1116.3,844)" font-size="20" font-style="italic" text-anchor="middle" fill="#333">#</text>
<line x1="1214.9" y1="781.5" x2="1244.3" y2="781.5" stroke="#222021" stroke-width="1.6"/>
<text transform="translate(1230.9,777.5)" font-size="20" font-style="italic" text-anchor="middle" fill="#333" textLength="21" lengthAdjust="spacing">##</text>
<line x1="1214.2" y1="755.5" x2="1282.4" y2="755.5" stroke="#222021" stroke-width="1.7"/>
<text transform="translate(1251.6,751.5)" font-size="20" font-style="italic" text-anchor="middle" fill="#333" textLength="21" lengthAdjust="spacing">##</text>
<text transform="translate(833,1137.5) scale(0.848,1)" font-size="29" text-anchor="middle">pStat1 Ser727</text>
<text transform="translate(966.7,1137.5) scale(0.846,1)" font-size="29" text-anchor="middle">SLC7A11</text>
<text transform="translate(1099.2,1137.5) scale(0.838,1)" font-size="29" text-anchor="middle">GPX4</text>
<text transform="translate(1232.4,1137.5) scale(0.848,1)" font-size="29" text-anchor="middle">ACSL4</text>
<circle cx="792" cy="609.4" r="3.8" fill="#222021"/>
<polygon points="791.8,631.2 795.7,638.4 787.9,638.4" fill="#ec3b45"/>
<polygon points="787.9,660.5 795.7,660.5 795.7,668.3 787.9,668.3" fill="#2e6b44"/>
<polygon points="792,690.5 795.8,694.3 792,698.1 788.2,694.3" fill="#2e6b44"/>
<text transform="translate(832.8,615.6) scale(0.910,1)" font-size="26.6">SiNC</text>
<text transform="translate(832.8,641.5) scale(0.923,1)" font-size="26.6">Crizo+SiNC</text>
<text transform="translate(832.8,671.4) scale(0.917,1)" font-size="26.6">Crizo+Stat1 si#1</text>
<text transform="translate(832.8,700.8) scale(0.926,1)" font-size="26.6">Crizo+Stat1 si#2</text>
<text transform="translate(672.3,917.5) rotate(-90)" font-size="30" text-anchor="middle">Relative protein expression</text>
<text transform="translate(707,916) rotate(-90) scale(0.979,1)" font-size="30" text-anchor="middle">(Fold change)</text>
<line x1="1501.2" y1="39.1" x2="1501.2" y2="420.8" stroke="#222021" stroke-width="2"/>
<line x1="1486.8" y1="419.8" x2="1879.8" y2="419.8" stroke="#222021" stroke-width="2"/>
<line x1="1486.7" y1="40.1" x2="1501.2" y2="40.1" stroke="#222021" stroke-width="2"/>
<text transform="translate(1481,49) scale(0.835,1)" font-size="30.3" text-anchor="end">0.8</text>
<line x1="1486.7" y1="134.7" x2="1501.2" y2="134.7" stroke="#222021" stroke-width="2"/>
<text transform="translate(1481,143.6) scale(0.835,1)" font-size="30.3" text-anchor="end">0.6</text>
<line x1="1486.7" y1="229.3" x2="1501.2" y2="229.3" stroke="#222021" stroke-width="2"/>
<text transform="translate(1481,238.2) scale(0.835,1)" font-size="30.3" text-anchor="end">0.4</text>
<line x1="1486.7" y1="324.2" x2="1501.2" y2="324.2" stroke="#222021" stroke-width="2"/>
<text transform="translate(1481,333.1) scale(0.835,1)" font-size="30.3" text-anchor="end">0.2</text>
<line x1="1486.7" y1="419.8" x2="1501.2" y2="419.8" stroke="#222021" stroke-width="2"/>
<text transform="translate(1481,428.7) scale(0.835,1)" font-size="30.3" text-anchor="end">0.0</text>
<line x1="1559.7" y1="419.8" x2="1559.7" y2="434.8" stroke="#222021" stroke-width="2"/>
<line x1="1646.6" y1="419.8" x2="1646.6" y2="434.8" stroke="#222021" stroke-width="2"/>
<line x1="1734.5" y1="419.8" x2="1734.5" y2="434.8" stroke="#222021" stroke-width="2"/>
<line x1="1822" y1="419.8" x2="1822" y2="434.8" stroke="#222021" stroke-width="2"/>
<path d="M1531.5 419.8 V371 H1588.1 V419.8" fill="none" stroke="#222021" stroke-width="2"/>
<line x1="1559.8" y1="358.6" x2="1559.8" y2="383.4" stroke="#222021" stroke-width="2"/>
<line x1="1545.3" y1="358.6" x2="1574.3" y2="358.6" stroke="#222021" stroke-width="2"/>
<line x1="1545.3" y1="383.4" x2="1574.3" y2="383.4" stroke="#222021" stroke-width="2"/>
<circle cx="1559.7" cy="346.3" r="4.2" fill="#222021"/>
<circle cx="1551.6" cy="385.4" r="4.2" fill="#222021"/>
<circle cx="1566.3" cy="382" r="4.2" fill="#222021"/>
<path d="M1618.7 419.8 V196.2 H1675.3 V419.8" fill="none" stroke="#ec3b45" stroke-width="1.5"/>
<line x1="1646.8" y1="168.1" x2="1646.8" y2="222.9" stroke="#ec3b45" stroke-width="1.6"/>
<line x1="1632.3" y1="168.1" x2="1661.3" y2="168.1" stroke="#ec3b45" stroke-width="1.6"/>
<line x1="1632.3" y1="222.9" x2="1661.3" y2="222.9" stroke="#ec3b45" stroke-width="1.6"/>
<polygon points="1646.8,140.6 1650.9,148.2 1642.7,148.2" fill="#ec3b45"/>
<polygon points="1646.8,203.1 1650.9,210.7 1642.7,210.7" fill="#ec3b45"/>
<polygon points="1646.8,233.5 1650.9,241.1 1642.7,241.1" fill="#ec3b45"/>
<path d="M1706.2 419.8 V322.5 H1762.8 V419.8" fill="none" stroke="#2e6b44" stroke-width="2.7"/>
<line x1="1734.5" y1="295.1" x2="1734.5" y2="348.6" stroke="#2e6b44" stroke-width="1.6"/>
<line x1="1720" y1="295.1" x2="1749" y2="295.1" stroke="#2e6b44" stroke-width="1.6"/>
<line x1="1720" y1="348.6" x2="1749" y2="348.6" stroke="#2e6b44" stroke-width="1.6"/>
<polygon points="1730.4,273 1738.6,273 1738.6,281.2 1730.4,281.2" fill="#2e6b44"/>
<polygon points="1730.4,316.8 1738.6,316.8 1738.6,325 1730.4,325" fill="#2e6b44"/>
<polygon points="1730.4,364.9 1738.6,364.9 1738.6,373.1 1730.4,373.1" fill="#2e6b44"/>
<path d="M1793.7 419.8 V330.9 H1850.3 V419.8" fill="none" stroke="#2e6b44" stroke-width="2.3"/>
<line x1="1822" y1="274.7" x2="1822" y2="385" stroke="#2e6b44" stroke-width="2.8"/>
<line x1="1807.5" y1="274.7" x2="1836.5" y2="274.7" stroke="#2e6b44" stroke-width="2.8"/>
<line x1="1807.5" y1="385" x2="1836.5" y2="385" stroke="#2e6b44" stroke-width="2.8"/>
<polygon points="1822,216.8 1826.1,220.9 1822,225 1817.9,220.9" fill="#2e6b44"/>
<polygon points="1822,367.9 1826.1,372 1822,376.1 1817.9,372" fill="#2e6b44"/>
<polygon points="1822,393 1826.1,397.1 1822,401.2 1817.9,397.1" fill="#2e6b44"/>
<line x1="1558" y1="110.6" x2="1645.2" y2="110.6" stroke="#222021" stroke-width="1.7"/>
<text transform="translate(1603,111)" font-size="22" text-anchor="middle">**</text>
<line x1="1645.2" y1="86.9" x2="1731.1" y2="86.9" stroke="#222021" stroke-width="1.7"/>
<text transform="translate(1690,82.5)" font-size="22" font-style="italic" text-anchor="middle" fill="#333">#</text>
<line x1="1644.2" y1="57.2" x2="1827.4" y2="57.2" stroke="#222021" stroke-width="1.7"/>
<text transform="translate(1732,51.5)" font-size="22" font-style="italic" text-anchor="middle" fill="#333">#</text>
<text transform="translate(1565.7,458.3) rotate(-45)" font-size="26" text-anchor="end" textLength="58.2" lengthAdjust="spacing">SiNC</text>
<text transform="translate(1652.6,458.3) rotate(-45)" font-size="26" text-anchor="end" textLength="131" lengthAdjust="spacing">Crizo+SiNC</text>
<text transform="translate(1740.5,458.3) rotate(-45)" font-size="26" text-anchor="end" textLength="176.8" lengthAdjust="spacing">Crizo+Stat1 si#1</text>
<text transform="translate(1828,458.3) rotate(-45)" font-size="26" text-anchor="end" textLength="176.8" lengthAdjust="spacing">Crizo+Stat1 si#2</text>
<text transform="translate(1434.4,231.5) rotate(-90) scale(0.897,1)" font-size="34.3" text-anchor="middle">MDA(nmol/mg prot)</text>
<line x1="1498.2" y1="630.8" x2="1498.2" y2="1013.8" stroke="#222021" stroke-width="2"/>
<line x1="1483.8" y1="1012.8" x2="1879.8" y2="1012.8" stroke="#222021" stroke-width="2"/>
<line x1="1483.7" y1="631.8" x2="1498.2" y2="631.8" stroke="#222021" stroke-width="2"/>
<text transform="translate(1477.7,640.8) scale(0.800,1)" font-size="30" text-anchor="end">15</text>
<line x1="1483.7" y1="759.1" x2="1498.2" y2="759.1" stroke="#222021" stroke-width="2"/>
<text transform="translate(1477.7,768.1) scale(0.800,1)" font-size="30" text-anchor="end">10</text>
<line x1="1483.7" y1="885.8" x2="1498.2" y2="885.8" stroke="#222021" stroke-width="2"/>
<text transform="translate(1477.7,894.8) scale(0.800,1)" font-size="30" text-anchor="end">5</text>
<line x1="1483.7" y1="1012.8" x2="1498.2" y2="1012.8" stroke="#222021" stroke-width="2"/>
<text transform="translate(1477.7,1021.8) scale(0.800,1)" font-size="30" text-anchor="end">0</text>
<line x1="1557.3" y1="1012.8" x2="1557.3" y2="1027.8" stroke="#222021" stroke-width="2"/>
<line x1="1645.2" y1="1012.8" x2="1645.2" y2="1027.8" stroke="#222021" stroke-width="2"/>
<line x1="1732.8" y1="1012.8" x2="1732.8" y2="1027.8" stroke="#222021" stroke-width="2"/>
<line x1="1820.7" y1="1012.8" x2="1820.7" y2="1027.8" stroke="#222021" stroke-width="2"/>
<path d="M1528.9 1012.8 V856.7 H1585.7 V1012.8" fill="none" stroke="#222021" stroke-width="2"/>
<line x1="1557.3" y1="848.4" x2="1557.3" y2="865.1" stroke="#222021" stroke-width="1.8"/>
<line x1="1542.8" y1="848.4" x2="1571.8" y2="848.4" stroke="#222021" stroke-width="1.8"/>
<line x1="1542.8" y1="865.1" x2="1571.8" y2="865.1" stroke="#222021" stroke-width="1.8"/>
<circle cx="1550" cy="844.4" r="4.2" fill="#222021"/>
<circle cx="1565" cy="852.4" r="4.2" fill="#222021"/>
<circle cx="1557.3" cy="873.4" r="4.2" fill="#222021"/>
<path d="M1616.8 1012.8 V755.1 H1673.6 V1012.8" fill="none" stroke="#ec3b45" stroke-width="1.5"/>
<line x1="1645.2" y1="734.4" x2="1645.2" y2="774.9" stroke="#ec3b45" stroke-width="1.6"/>
<line x1="1630.7" y1="734.4" x2="1659.7" y2="734.4" stroke="#ec3b45" stroke-width="1.6"/>
<line x1="1630.7" y1="774.9" x2="1659.7" y2="774.9" stroke="#ec3b45" stroke-width="1.6"/>
<polygon points="1645.2,711.3 1649.3,718.9 1641.1,718.9" fill="#ec3b45"/>
<polygon points="1653.2,768.1 1657.3,775.7 1649.1,775.7" fill="#ec3b45"/>
<polygon points="1637.2,773.1 1641.3,780.7 1633.1,780.7" fill="#ec3b45"/>
<path d="M1704.4 1012.8 V842.4 H1761.2 V1012.8" fill="none" stroke="#2e6b44" stroke-width="2"/>
<line x1="1732.8" y1="821" x2="1732.8" y2="863.8" stroke="#2e6b44" stroke-width="1.8"/>
<line x1="1718.3" y1="821" x2="1747.3" y2="821" stroke="#2e6b44" stroke-width="1.8"/>
<line x1="1718.3" y1="863.8" x2="1747.3" y2="863.8" stroke="#2e6b44" stroke-width="1.8"/>
<polygon points="1721.3,813.5 1729.5,813.5 1729.5,821.7 1721.3,821.7" fill="#2e6b44"/>
<polygon points="1736,820.9 1744.2,820.9 1744.2,829.1 1736,829.1" fill="#2e6b44"/>
<polygon points="1728.7,880.4 1736.9,880.4 1736.9,888.6 1728.7,888.6" fill="#2e6b44"/>
<path d="M1792.3 1012.8 V831.7 H1849.1 V1012.8" fill="none" stroke="#2e6b44" stroke-width="2"/>
<line x1="1820.7" y1="810.3" x2="1820.7" y2="852.7" stroke="#2e6b44" stroke-width="1.8"/>
<line x1="1806.2" y1="810.3" x2="1835.2" y2="810.3" stroke="#2e6b44" stroke-width="1.8"/>
<line x1="1806.2" y1="852.7" x2="1835.2" y2="852.7" stroke="#2e6b44" stroke-width="1.8"/>
<polygon points="1820.7,795.5 1824.8,799.6 1820.7,803.7 1816.6,799.6" fill="#2e6b44"/>
<polygon points="1820.7,818.9 1824.8,823 1820.7,827.1 1816.6,823" fill="#2e6b44"/>
<polygon points="1820.7,867.3 1824.8,871.4 1820.7,875.5 1816.6,871.4" fill="#2e6b44"/>
<line x1="1556.3" y1="702.7" x2="1641.9" y2="702.7" stroke="#222021" stroke-width="2.2"/>
<text transform="translate(1601.4,702.5)" font-size="25" text-anchor="middle">**</text>
<line x1="1642.5" y1="678.6" x2="1729.4" y2="678.6" stroke="#222021" stroke-width="2.2"/>
<text transform="translate(1687.7,674.5)" font-size="22" font-style="italic" text-anchor="middle" fill="#333">#</text>
<line x1="1641.9" y1="648.2" x2="1825.4" y2="648.2" stroke="#222021" stroke-width="1.7"/>
<text transform="translate(1730.4,642.5)" font-size="22" font-style="italic" text-anchor="middle" fill="#333">#</text>
<text transform="translate(1563.3,1051.3) rotate(-45)" font-size="26" text-anchor="end" textLength="58.2" lengthAdjust="spacing">SiNC</text>
<text transform="translate(1651.2,1051.3) rotate(-45)" font-size="26" text-anchor="end" textLength="131" lengthAdjust="spacing">Crizo+SiNC</text>
<text transform="translate(1738.8,1051.3) rotate(-45)" font-size="26" text-anchor="end" textLength="176.8" lengthAdjust="spacing">Crizo+Stat1 si#1</text>
<text transform="translate(1826.7,1051.3) rotate(-45)" font-size="26" text-anchor="end" textLength="176.8" lengthAdjust="spacing">Crizo+Stat1 si#2</text>
<text transform="translate(1435.5,823.6) rotate(-90) scale(0.893,1)" font-size="35.5" text-anchor="middle">Iron content (μmol/gprot)</text>
<path d="M355 1370.7 L355 1370.7 L355.6 1368.6 L356.3 1370.7 L363.5 1370.7 L364.6 1369 L366 1370.2 L367.5 1368.8 L369 1370.2 L370.3 1368.8 L371.5 1370.7 L373.4 1370 L377 1367.2 L380 1365 L382.4 1363.2 L384.8 1364.3 L385.6 1350 L386.1 1346.5 L387.6 1348.4 L389.8 1344.5 L393.8 1338.9 L395.8 1330 L397.6 1317.2 L399.2 1310 L400.8 1299.3 L401.6 1296 L402.4 1293.6 L403.4 1300 L404.6 1312.1 L405.6 1304 L406.5 1300.6 L408 1310 L409.7 1321 L411.3 1312 L412.9 1307.6 L414.2 1316 L415.4 1323.6 L416.6 1322 L418 1341.4 L419.8 1343.5 L421.8 1338.9 L423.6 1341.9 L425.6 1341.4 L427 1345 L428.2 1346.5 L429.5 1353 L430.7 1359.3 L433 1362.5 L435.8 1364.4 L438 1365.6 L440 1366.3 L442 1368 L443.2 1366.6 L444.8 1368.8 L447 1369.4 L449.9 1370.7 L467.4 1370.7 L468.9 1368.6 L470.3 1370.7 L475.8 1370.7 L477.3 1368.4 L478.8 1370.7 L478.8 1370.7 Z" fill="#f0a5a8" stroke="none"/>
<line x1="121.6" y1="1370.7" x2="568.6" y2="1370.7" stroke="#ee4a50" stroke-width="1.2" opacity="0.62"/>
<path d="M355 1370.7 L355 1370.7 L355.6 1368.6 L356.3 1370.7 L363.5 1370.7 L364.6 1369 L366 1370.2 L367.5 1368.8 L369 1370.2 L370.3 1368.8 L371.5 1370.7 L373.4 1370 L377 1367.2 L380 1365 L382.4 1363.2 L384.8 1364.3 L385.6 1350 L386.1 1346.5 L387.6 1348.4 L389.8 1344.5 L393.8 1338.9 L395.8 1330 L397.6 1317.2 L399.2 1310 L400.8 1299.3 L401.6 1296 L402.4 1293.6 L403.4 1300 L404.6 1312.1 L405.6 1304 L406.5 1300.6 L408 1310 L409.7 1321 L411.3 1312 L412.9 1307.6 L414.2 1316 L415.4 1323.6 L416.6 1322 L418 1341.4 L419.8 1343.5 L421.8 1338.9 L423.6 1341.9 L425.6 1341.4 L427 1345 L428.2 1346.5 L429.5 1353 L430.7 1359.3 L433 1362.5 L435.8 1364.4 L438 1365.6 L440 1366.3 L442 1368 L443.2 1366.6 L444.8 1368.8 L447 1369.4 L449.9 1370.7 L467.4 1370.7 L468.9 1368.6 L470.3 1370.7 L475.8 1370.7 L477.3 1368.4 L478.8 1370.7 L478.8 1370.7" fill="none" stroke="#ee4a50" stroke-width="1.9" stroke-linejoin="round"/>
<path d="M351 1482.7 L351 1482.7 L352.2 1481 L354 1480.7 L356 1482.7 L364 1482.7 L365.7 1480.8 L367.2 1482.7 L370.8 1482.7 L372 1479.8 L373.4 1481.5 L375 1479.2 L376.6 1481 L378.4 1478.4 L380 1480.2 L381.6 1477.6 L383.2 1479 L384.8 1476.6 L386.6 1474.5 L388.7 1471.5 L390.5 1466 L391.6 1455.5 L392.5 1454.9 L393.6 1458 L394.8 1452 L396.3 1451.1 L398 1446 L400.1 1439.6 L401 1441.5 L402 1437 L403 1440 L404 1442.1 L405.5 1437.5 L407.8 1434.5 L409.2 1437.5 L410.4 1441 L411.8 1436.5 L413.5 1435.1 L415 1436 L416.7 1437 L418 1441 L419.3 1443.4 L421.5 1445.5 L422.9 1444 L424.4 1445.3 L426.5 1448 L428.2 1451.1 L429.5 1456 L430.7 1461.3 L432 1460.5 L433.3 1462.5 L434.6 1468 L435.8 1474 L437 1476 L438.4 1477.2 L440.4 1477 L442.2 1475.3 L443.4 1478 L444.8 1479.1 L446.4 1480 L448 1478.6 L449.9 1479.1 L451.4 1481.4 L453 1482.7 L462 1482.7 L463.2 1481 L464.5 1480.6 L466 1481.2 L467.2 1482.7 L467.2 1482.7 Z" fill="#a9e3f0" stroke="none"/>
<line x1="121.6" y1="1482.7" x2="568.6" y2="1482.7" stroke="#5cc4ea" stroke-width="1.2" opacity="0.62"/>
<path d="M351 1482.7 L351 1482.7 L352.2 1481 L354 1480.7 L356 1482.7 L364 1482.7 L365.7 1480.8 L367.2 1482.7 L370.8 1482.7 L372 1479.8 L373.4 1481.5 L375 1479.2 L376.6 1481 L378.4 1478.4 L380 1480.2 L381.6 1477.6 L383.2 1479 L384.8 1476.6 L386.6 1474.5 L388.7 1471.5 L390.5 1466 L391.6 1455.5 L392.5 1454.9 L393.6 1458 L394.8 1452 L396.3 1451.1 L398 1446 L400.1 1439.6 L401 1441.5 L402 1437 L403 1440 L404 1442.1 L405.5 1437.5 L407.8 1434.5 L409.2 1437.5 L410.4 1441 L411.8 1436.5 L413.5 1435.1 L415 1436 L416.7 1437 L418 1441 L419.3 1443.4 L421.5 1445.5 L422.9 1444 L424.4 1445.3 L426.5 1448 L428.2 1451.1 L429.5 1456 L430.7 1461.3 L432 1460.5 L433.3 1462.5 L434.6 1468 L435.8 1474 L437 1476 L438.4 1477.2 L440.4 1477 L442.2 1475.3 L443.4 1478 L444.8 1479.1 L446.4 1480 L448 1478.6 L449.9 1479.1 L451.4 1481.4 L453 1482.7 L462 1482.7 L463.2 1481 L464.5 1480.6 L466 1481.2 L467.2 1482.7 L467.2 1482.7" fill="none" stroke="#5cc4ea" stroke-width="1.9" stroke-linejoin="round"/>
<path d="M363.8 1594.8 L363.8 1594.1 L365.4 1593 L367 1594.2 L370 1593.6 L373.4 1592.2 L376 1587 L378.5 1580.7 L380.2 1581.5 L382.3 1578.2 L384.2 1566 L385.4 1552 L386.1 1548.9 L387.2 1553 L388 1552.7 L390.2 1542 L392.5 1532.3 L393.8 1534.8 L395.4 1526 L396.9 1518.3 L398.4 1517 L399.5 1515.7 L400.4 1503 L401.4 1492.8 L402.4 1486.4 L403.2 1494 L404 1501.7 L405.2 1498 L406.5 1496.6 L408 1505 L409.7 1513.2 L411.3 1507 L412.9 1503 L413.8 1512 L414.8 1522.1 L416 1521 L417.3 1523.4 L418.3 1531 L419.3 1538.7 L420.2 1537.5 L421.2 1539.9 L423 1549 L425 1557.8 L426.3 1555 L427.5 1555.2 L429 1565 L430.7 1575.6 L432.6 1580.5 L434.6 1584.6 L437 1587.5 L439.7 1589.7 L442 1591.2 L444.8 1592.2 L447.4 1593.5 L449.9 1594.1 L452.8 1593 L455.6 1593.5 L456.6 1594.8 L456.6 1594.8 Z" fill="#f3cfab" stroke="none"/>
<line x1="121.6" y1="1594.8" x2="568.6" y2="1594.8" stroke="#ec9148" stroke-width="1.2" opacity="0.62"/>
<path d="M363.8 1594.8 L363.8 1594.1 L365.4 1593 L367 1594.2 L370 1593.6 L373.4 1592.2 L376 1587 L378.5 1580.7 L380.2 1581.5 L382.3 1578.2 L384.2 1566 L385.4 1552 L386.1 1548.9 L387.2 1553 L388 1552.7 L390.2 1542 L392.5 1532.3 L393.8 1534.8 L395.4 1526 L396.9 1518.3 L398.4 1517 L399.5 1515.7 L400.4 1503 L401.4 1492.8 L402.4 1486.4 L403.2 1494 L404 1501.7 L405.2 1498 L406.5 1496.6 L408 1505 L409.7 1513.2 L411.3 1507 L412.9 1503 L413.8 1512 L414.8 1522.1 L416 1521 L417.3 1523.4 L418.3 1531 L419.3 1538.7 L420.2 1537.5 L421.2 1539.9 L423 1549 L425 1557.8 L426.3 1555 L427.5 1555.2 L429 1565 L430.7 1575.6 L432.6 1580.5 L434.6 1584.6 L437 1587.5 L439.7 1589.7 L442 1591.2 L444.8 1592.2 L447.4 1593.5 L449.9 1594.1 L452.8 1593 L455.6 1593.5 L456.6 1594.8 L456.6 1594.8" fill="none" stroke="#ec9148" stroke-width="1.9" stroke-linejoin="round"/>
<path d="M363.2 1705.7 L363.2 1705 L370 1704.6 L379.7 1703.1 L382.4 1700 L384.8 1696.8 L387.4 1696.6 L389.9 1695.5 L391.5 1692.5 L393.1 1690.4 L394.8 1690.2 L396.3 1689.1 L397 1683 L397.6 1678.9 L399.4 1676 L401.4 1673.8 L402.6 1676.4 L404 1676.4 L405.5 1672.5 L407.1 1670 L408.4 1672.6 L409.7 1673.8 L411.3 1671 L412.9 1670.6 L413.8 1675 L414.8 1680.2 L416.2 1681.6 L417.3 1682.7 L419 1678 L420.5 1675.1 L421.5 1681 L422.4 1686.6 L423.7 1689.5 L425 1691.7 L426.9 1691.6 L428.8 1692.9 L430.4 1695 L432 1696.8 L434 1699.3 L435.8 1701.2 L438.4 1702.4 L440.9 1703.1 L445 1704.4 L449.9 1705 L449.9 1705.7 Z" fill="#c5e8a4" stroke="none"/>
<line x1="121.6" y1="1705.7" x2="568.6" y2="1705.7" stroke="#8ed24b" stroke-width="1.2" opacity="0.62"/>
<path d="M363.2 1705.7 L363.2 1705 L370 1704.6 L379.7 1703.1 L382.4 1700 L384.8 1696.8 L387.4 1696.6 L389.9 1695.5 L391.5 1692.5 L393.1 1690.4 L394.8 1690.2 L396.3 1689.1 L397 1683 L397.6 1678.9 L399.4 1676 L401.4 1673.8 L402.6 1676.4 L404 1676.4 L405.5 1672.5 L407.1 1670 L408.4 1672.6 L409.7 1673.8 L411.3 1671 L412.9 1670.6 L413.8 1675 L414.8 1680.2 L416.2 1681.6 L417.3 1682.7 L419 1678 L420.5 1675.1 L421.5 1681 L422.4 1686.6 L423.7 1689.5 L425 1691.7 L426.9 1691.6 L428.8 1692.9 L430.4 1695 L432 1696.8 L434 1699.3 L435.8 1701.2 L438.4 1702.4 L440.9 1703.1 L445 1704.4 L449.9 1705 L449.9 1705.7" fill="none" stroke="#8ed24b" stroke-width="1.9" stroke-linejoin="round"/>
<rect x="121.6" y="1258.9" width="447" height="446.7" fill="none" stroke="#2a2a2a" stroke-width="1.8"/>
<line x1="104.3" y1="1279.6" x2="105" y2="1365" stroke="#333" stroke-width="1"/>
<line x1="105.2" y1="1365" x2="105.8" y2="1483" stroke="#333" stroke-width="1"/>
<line x1="106" y1="1483" x2="106.8" y2="1704" stroke="#333" stroke-width="1"/>
<line x1="122.3" y1="1705.6" x2="122.3" y2="1717.1" stroke="#1a1a1a" stroke-width="2.2"/>
<line x1="141.4" y1="1705.6" x2="141.4" y2="1711.1" stroke="#1a1a1a" stroke-width="1.3"/>
<line x1="152.6" y1="1705.6" x2="152.6" y2="1711.1" stroke="#1a1a1a" stroke-width="1.3"/>
<line x1="160.5" y1="1705.6" x2="160.5" y2="1711.1" stroke="#1a1a1a" stroke-width="1.3"/>
<line x1="166.7" y1="1705.6" x2="166.7" y2="1711.1" stroke="#1a1a1a" stroke-width="1.3"/>
<line x1="171.7" y1="1705.6" x2="171.7" y2="1711.1" stroke="#1a1a1a" stroke-width="1.3"/>
<line x1="175.9" y1="1705.6" x2="175.9" y2="1711.1" stroke="#1a1a1a" stroke-width="1.3"/>
<line x1="179.6" y1="1705.6" x2="179.6" y2="1711.1" stroke="#1a1a1a" stroke-width="1.3"/>
<line x1="182.9" y1="1705.6" x2="182.9" y2="1711.1" stroke="#1a1a1a" stroke-width="1.3"/>
<line x1="185.8" y1="1705.6" x2="185.8" y2="1717.1" stroke="#1a1a1a" stroke-width="2.2"/>
<line x1="204.9" y1="1705.6" x2="204.9" y2="1711.1" stroke="#1a1a1a" stroke-width="1.3"/>
<line x1="216.1" y1="1705.6" x2="216.1" y2="1711.1" stroke="#1a1a1a" stroke-width="1.3"/>
<line x1="224" y1="1705.6" x2="224" y2="1711.1" stroke="#1a1a1a" stroke-width="1.3"/>
<line x1="230.1" y1="1705.6" x2="230.1" y2="1711.1" stroke="#1a1a1a" stroke-width="1.3"/>
<line x1="235.2" y1="1705.6" x2="235.2" y2="1711.1" stroke="#1a1a1a" stroke-width="1.3"/>
<line x1="239.4" y1="1705.6" x2="239.4" y2="1711.1" stroke="#1a1a1a" stroke-width="1.3"/>
<line x1="243.1" y1="1705.6" x2="243.1" y2="1711.1" stroke="#1a1a1a" stroke-width="1.3"/>
<line x1="246.3" y1="1705.6" x2="246.3" y2="1711.1" stroke="#1a1a1a" stroke-width="1.3"/>
<line x1="249.2" y1="1705.6" x2="249.2" y2="1717.1" stroke="#1a1a1a" stroke-width="2.2"/>
<line x1="268.3" y1="1705.6" x2="268.3" y2="1711.1" stroke="#1a1a1a" stroke-width="1.3"/>
<line x1="279.5" y1="1705.6" x2="279.5" y2="1711.1" stroke="#1a1a1a" stroke-width="1.3"/>
<line x1="287.5" y1="1705.6" x2="287.5" y2="1711.1" stroke="#1a1a1a" stroke-width="1.3"/>
<line x1="293.6" y1="1705.6" x2="293.6" y2="1711.1" stroke="#1a1a1a" stroke-width="1.3"/>
<line x1="298.6" y1="1705.6" x2="298.6" y2="1711.1" stroke="#1a1a1a" stroke-width="1.3"/>
<line x1="302.9" y1="1705.6" x2="302.9" y2="1711.1" stroke="#1a1a1a" stroke-width="1.3"/>
<line x1="306.6" y1="1705.6" x2="306.6" y2="1711.1" stroke="#1a1a1a" stroke-width="1.3"/>
<line x1="309.8" y1="1705.6" x2="309.8" y2="1711.1" stroke="#1a1a1a" stroke-width="1.3"/>
<line x1="312.7" y1="1705.6" x2="312.7" y2="1717.1" stroke="#1a1a1a" stroke-width="2.2"/>
<line x1="331.8" y1="1705.6" x2="331.8" y2="1711.1" stroke="#1a1a1a" stroke-width="1.3"/>
<line x1="343" y1="1705.6" x2="343" y2="1711.1" stroke="#1a1a1a" stroke-width="1.3"/>
<line x1="350.9" y1="1705.6" x2="350.9" y2="1711.1" stroke="#1a1a1a" stroke-width="1.3"/>
<line x1="357.1" y1="1705.6" x2="357.1" y2="1711.1" stroke="#1a1a1a" stroke-width="1.3"/>
<line x1="362.1" y1="1705.6" x2="362.1" y2="1711.1" stroke="#1a1a1a" stroke-width="1.3"/>
<line x1="366.3" y1="1705.6" x2="366.3" y2="1711.1" stroke="#1a1a1a" stroke-width="1.3"/>
<line x1="370" y1="1705.6" x2="370" y2="1711.1" stroke="#1a1a1a" stroke-width="1.3"/>
<line x1="373.3" y1="1705.6" x2="373.3" y2="1711.1" stroke="#1a1a1a" stroke-width="1.3"/>
<line x1="376.2" y1="1705.6" x2="376.2" y2="1717.1" stroke="#1a1a1a" stroke-width="2.2"/>
<line x1="395.3" y1="1705.6" x2="395.3" y2="1711.1" stroke="#1a1a1a" stroke-width="1.3"/>
<line x1="406.5" y1="1705.6" x2="406.5" y2="1711.1" stroke="#1a1a1a" stroke-width="1.3"/>
<line x1="414.4" y1="1705.6" x2="414.4" y2="1711.1" stroke="#1a1a1a" stroke-width="1.3"/>
<line x1="420.5" y1="1705.6" x2="420.5" y2="1711.1" stroke="#1a1a1a" stroke-width="1.3"/>
<line x1="425.6" y1="1705.6" x2="425.6" y2="1711.1" stroke="#1a1a1a" stroke-width="1.3"/>
<line x1="429.8" y1="1705.6" x2="429.8" y2="1711.1" stroke="#1a1a1a" stroke-width="1.3"/>
<line x1="433.5" y1="1705.6" x2="433.5" y2="1711.1" stroke="#1a1a1a" stroke-width="1.3"/>
<line x1="436.7" y1="1705.6" x2="436.7" y2="1711.1" stroke="#1a1a1a" stroke-width="1.3"/>
<line x1="439.7" y1="1705.6" x2="439.7" y2="1717.1" stroke="#1a1a1a" stroke-width="2.2"/>
<line x1="458.8" y1="1705.6" x2="458.8" y2="1711.1" stroke="#1a1a1a" stroke-width="1.3"/>
<line x1="469.9" y1="1705.6" x2="469.9" y2="1711.1" stroke="#1a1a1a" stroke-width="1.3"/>
<line x1="477.9" y1="1705.6" x2="477.9" y2="1711.1" stroke="#1a1a1a" stroke-width="1.3"/>
<line x1="484" y1="1705.6" x2="484" y2="1711.1" stroke="#1a1a1a" stroke-width="1.3"/>
<line x1="489" y1="1705.6" x2="489" y2="1711.1" stroke="#1a1a1a" stroke-width="1.3"/>
<line x1="493.3" y1="1705.6" x2="493.3" y2="1711.1" stroke="#1a1a1a" stroke-width="1.3"/>
<line x1="497" y1="1705.6" x2="497" y2="1711.1" stroke="#1a1a1a" stroke-width="1.3"/>
<line x1="500.2" y1="1705.6" x2="500.2" y2="1711.1" stroke="#1a1a1a" stroke-width="1.3"/>
<line x1="503.1" y1="1705.6" x2="503.1" y2="1717.1" stroke="#1a1a1a" stroke-width="2.2"/>
<line x1="522.2" y1="1705.6" x2="522.2" y2="1711.1" stroke="#1a1a1a" stroke-width="1.3"/>
<line x1="533.4" y1="1705.6" x2="533.4" y2="1711.1" stroke="#1a1a1a" stroke-width="1.3"/>
<line x1="541.3" y1="1705.6" x2="541.3" y2="1711.1" stroke="#1a1a1a" stroke-width="1.3"/>
<line x1="547.5" y1="1705.6" x2="547.5" y2="1711.1" stroke="#1a1a1a" stroke-width="1.3"/>
<line x1="552.5" y1="1705.6" x2="552.5" y2="1711.1" stroke="#1a1a1a" stroke-width="1.3"/>
<line x1="556.8" y1="1705.6" x2="556.8" y2="1711.1" stroke="#1a1a1a" stroke-width="1.3"/>
<line x1="560.4" y1="1705.6" x2="560.4" y2="1711.1" stroke="#1a1a1a" stroke-width="1.3"/>
<line x1="563.7" y1="1705.6" x2="563.7" y2="1711.1" stroke="#1a1a1a" stroke-width="1.3"/>
<line x1="566.6" y1="1705.6" x2="566.6" y2="1717.1" stroke="#1a1a1a" stroke-width="2.2"/>
<text transform="translate(130.5,1745.5)" font-family="'Liberation Sans',Arial,sans-serif" font-size="13" fill="#222">10<tspan dy="-6.5" font-size="9.5">0</tspan></text>
<text transform="translate(249.5,1745.5)" font-family="'Liberation Sans',Arial,sans-serif" font-size="13" fill="#222">10<tspan dy="-6.5" font-size="9.5">2</tspan></text>
<text transform="translate(376,1745.5)" font-family="'Liberation Sans',Arial,sans-serif" font-size="13" fill="#222">10<tspan dy="-6.5" font-size="9.5">4</tspan></text>
<text transform="translate(503.5,1745.5)" font-family="'Liberation Sans',Arial,sans-serif" font-size="13" fill="#222">10<tspan dy="-6.5" font-size="9.5">6</tspan></text>
<text transform="translate(341.7,1793.8)" font-size="18.3" text-anchor="middle" fill="#222" font-family="'Liberation Sans',Arial,sans-serif">Comp-B2-A</text>
<text transform="translate(130,1361.9) scale(0.968,1)" font-size="36">SiNC</text>
<text transform="translate(130,1477) scale(0.984,1)" font-size="36">Crizo+SiNC</text>
<text transform="translate(130,1585.9) scale(0.982,1)" font-size="36">Crizo+Stat1 si#1</text>
<text transform="translate(130,1700.4) scale(0.984,1)" font-size="36">Crizo+Stat1 si#2</text>
<text transform="translate(91.4,1460) rotate(-90) scale(0.973,1)" font-size="42.5" text-anchor="middle">%MAX</text>
<line x1="806.5" y1="1266.3" x2="806.5" y2="1643.7" stroke="#222021" stroke-width="2"/>
<line x1="791" y1="1642.7" x2="1206.5" y2="1642.7" stroke="#222021" stroke-width="2"/>
<line x1="791" y1="1267.3" x2="806.5" y2="1267.3" stroke="#222021" stroke-width="2"/>
<text transform="translate(784.3,1277.3) scale(0.920,1)" font-size="29.5" text-anchor="end">200</text>
<line x1="791" y1="1361.5" x2="806.5" y2="1361.5" stroke="#222021" stroke-width="2"/>
<text transform="translate(784.3,1371.5) scale(0.920,1)" font-size="29.5" text-anchor="end">150</text>
<line x1="791" y1="1455.4" x2="806.5" y2="1455.4" stroke="#222021" stroke-width="2"/>
<text transform="translate(784.3,1465.4) scale(0.920,1)" font-size="29.5" text-anchor="end">100</text>
<line x1="791" y1="1548.8" x2="806.5" y2="1548.8" stroke="#222021" stroke-width="2"/>
<text transform="translate(784.3,1558.8) scale(0.920,1)" font-size="29.5" text-anchor="end">50</text>
<line x1="791" y1="1642.7" x2="806.5" y2="1642.7" stroke="#222021" stroke-width="2"/>
<text transform="translate(784.3,1652.7) scale(0.920,1)" font-size="29.5" text-anchor="end">0</text>
<line x1="867.3" y1="1642.7" x2="867.3" y2="1657.7" stroke="#222021" stroke-width="2"/>
<line x1="959.8" y1="1642.7" x2="959.8" y2="1657.7" stroke="#222021" stroke-width="2"/>
<line x1="1052.5" y1="1642.7" x2="1052.5" y2="1657.7" stroke="#222021" stroke-width="2"/>
<line x1="1145" y1="1642.7" x2="1145" y2="1657.7" stroke="#222021" stroke-width="2"/>
<path d="M838.3 1642.7 V1456.4 H898.1 V1642.7" fill="none" stroke="#222021" stroke-width="2"/>
<line x1="851.5" y1="1455.7" x2="884" y2="1455.7" stroke="#222021" stroke-width="2"/>
<circle cx="851.5" cy="1455.7" r="4.2" fill="#222021"/>
<circle cx="867.3" cy="1455.7" r="4.2" fill="#222021"/>
<circle cx="883.9" cy="1455.7" r="4.2" fill="#222021"/>
<path d="M930.3 1642.7 V1385.8 H990.1 V1642.7" fill="none" stroke="#ec3b45" stroke-width="1.6"/>
<line x1="959.8" y1="1361.2" x2="959.8" y2="1409.3" stroke="#ec3b45" stroke-width="1.6"/>
<line x1="945.3" y1="1361.2" x2="974.3" y2="1361.2" stroke="#ec3b45" stroke-width="1.6"/>
<line x1="945.3" y1="1409.3" x2="974.3" y2="1409.3" stroke="#ec3b45" stroke-width="1.6"/>
<polygon points="959.8,1337 963.9,1344.6 955.7,1344.6" fill="#ec3b45"/>
<polygon points="959.8,1387.3 963.9,1394.9 955.7,1394.9" fill="#ec3b45"/>
<polygon points="959.8,1419.6 963.9,1427.2 955.7,1427.2" fill="#ec3b45"/>
<path d="M1022.5 1642.7 V1432.9 H1082.3 V1642.7" fill="none" stroke="#2e6b44" stroke-width="2"/>
<line x1="1052.5" y1="1416.7" x2="1052.5" y2="1447.6" stroke="#2e6b44" stroke-width="1.8"/>
<line x1="1038" y1="1416.7" x2="1067" y2="1416.7" stroke="#2e6b44" stroke-width="1.8"/>
<line x1="1038" y1="1447.6" x2="1067" y2="1447.6" stroke="#2e6b44" stroke-width="1.8"/>
<polygon points="1048.3,1405.8 1056.7,1405.8 1056.7,1414.2 1048.3,1414.2" fill="#2e6b44"/>
<polygon points="1048.3,1420.6 1056.7,1420.6 1056.7,1429 1048.3,1429" fill="#2e6b44"/>
<polygon points="1048.3,1457.8 1056.7,1457.8 1056.7,1466.2 1048.3,1466.2" fill="#2e6b44"/>
<path d="M1114.9 1642.7 V1459.6 H1174.7 V1642.7" fill="none" stroke="#2e6b44" stroke-width="1.8"/>
<line x1="1145" y1="1447.3" x2="1145" y2="1471.2" stroke="#2e6b44" stroke-width="1.8"/>
<line x1="1130.5" y1="1447.3" x2="1159.5" y2="1447.3" stroke="#2e6b44" stroke-width="1.8"/>
<line x1="1130.5" y1="1471.2" x2="1159.5" y2="1471.2" stroke="#2e6b44" stroke-width="1.8"/>
<polygon points="1149,1441 1147,1444.5 1143,1444.5 1141,1441 1143,1437.5 1147,1437.5" fill="#2e6b44"/>
<polygon points="1149,1455.7 1147,1459.2 1143,1459.2 1141,1455.7 1143,1452.2 1147,1452.2" fill="#2e6b44"/>
<polygon points="1149,1481.4 1147,1484.9 1143,1484.9 1141,1481.4 1143,1477.9 1147,1477.9" fill="#2e6b44"/>
<line x1="848.7" y1="1328.5" x2="958" y2="1328.5" stroke="#222021" stroke-width="1.5"/>
<text transform="translate(901,1328)" font-size="22" text-anchor="middle">*</text>
<line x1="957.7" y1="1310.6" x2="1066.6" y2="1310.6" stroke="#222021" stroke-width="2.2"/>
<text transform="translate(1013.9,1305.3)" font-size="25" text-anchor="middle" textLength="86" lengthAdjust="spacing">P=0.064</text>
<line x1="953.8" y1="1277.9" x2="1147.8" y2="1277.9" stroke="#222021" stroke-width="1.7"/>
<text transform="translate(1061.7,1273.5)" font-size="22" font-style="italic" text-anchor="middle" fill="#333">#</text>
<text transform="translate(873.3,1681.3) rotate(-45)" font-size="26" text-anchor="end" textLength="58.2" lengthAdjust="spacing">SiNC</text>
<text transform="translate(965.8,1681.3) rotate(-45)" font-size="26" text-anchor="end" textLength="131" lengthAdjust="spacing">Crizo+SiNC</text>
<text transform="translate(1058.5,1681.3) rotate(-45)" font-size="26" text-anchor="end" textLength="176.8" lengthAdjust="spacing">Crizo+Stat1 si#1</text>
<text transform="translate(1151,1681.3) rotate(-45)" font-size="26" text-anchor="end" textLength="176.8" lengthAdjust="spacing">Crizo+Stat1 si#2</text>
<text transform="translate(727.2,1457.3) rotate(-90) scale(0.875,1)" font-size="35" text-anchor="middle">Lipid ROS (% of Control)</text>
<line x1="1497.3" y1="1275.8" x2="1497.3" y2="1681.6" stroke="#222021" stroke-width="2"/>
<line x1="1481.6" y1="1680.6" x2="1943.3" y2="1680.6" stroke="#222021" stroke-width="2"/>
<line x1="1481.8" y1="1276.8" x2="1497.3" y2="1276.8" stroke="#222021" stroke-width="2"/>
<text transform="translate(1476.1,1286.8) scale(0.810,1)" font-size="31.4" text-anchor="end">150</text>
<line x1="1481.8" y1="1412.1" x2="1497.3" y2="1412.1" stroke="#222021" stroke-width="2"/>
<text transform="translate(1476.1,1422.1) scale(0.810,1)" font-size="31.4" text-anchor="end">100</text>
<line x1="1481.8" y1="1546.3" x2="1497.3" y2="1546.3" stroke="#222021" stroke-width="2"/>
<text transform="translate(1476.1,1556.3) scale(0.810,1)" font-size="31.4" text-anchor="end">50</text>
<line x1="1481.8" y1="1680.6" x2="1497.3" y2="1680.6" stroke="#222021" stroke-width="2"/>
<text transform="translate(1476.1,1690.6) scale(0.810,1)" font-size="31.4" text-anchor="end">0</text>
<line x1="1529.1" y1="1680.6" x2="1529.1" y2="1696.6" stroke="#222021" stroke-width="2"/>
<line x1="1577.2" y1="1680.6" x2="1577.2" y2="1696.6" stroke="#222021" stroke-width="2"/>
<line x1="1624.8" y1="1680.6" x2="1624.8" y2="1696.6" stroke="#222021" stroke-width="2"/>
<line x1="1672.4" y1="1680.6" x2="1672.4" y2="1696.6" stroke="#222021" stroke-width="2"/>
<line x1="1720.4" y1="1680.6" x2="1720.4" y2="1696.6" stroke="#222021" stroke-width="2"/>
<line x1="1768.1" y1="1680.6" x2="1768.1" y2="1696.6" stroke="#222021" stroke-width="2"/>
<line x1="1816" y1="1680.6" x2="1816" y2="1696.6" stroke="#222021" stroke-width="2"/>
<line x1="1863.8" y1="1680.6" x2="1863.8" y2="1696.6" stroke="#222021" stroke-width="2"/>
<line x1="1911.7" y1="1680.6" x2="1911.7" y2="1696.6" stroke="#222021" stroke-width="2"/>
<path d="M1514.1 1680.6 V1412.1 H1544.1 V1680.6" fill="none" stroke="#222021" stroke-width="1.6"/>
<line x1="1529.1" y1="1405.4" x2="1529.1" y2="1419.6" stroke="#222021" stroke-width="1.6"/>
<line x1="1521.3" y1="1405.4" x2="1536.8" y2="1405.4" stroke="#222021" stroke-width="1.6"/>
<line x1="1521.3" y1="1419.6" x2="1536.8" y2="1419.6" stroke="#222021" stroke-width="1.6"/>
<circle cx="1529.1" cy="1391.3" r="4.3" fill="#222021"/>
<circle cx="1529.1" cy="1399.6" r="4.3" fill="#222021"/>
<circle cx="1516.6" cy="1411.4" r="4.3" fill="#222021"/>
<circle cx="1541.7" cy="1412.1" r="4.3" fill="#222021"/>
<circle cx="1529.1" cy="1417.9" r="4.3" fill="#222021"/>
<circle cx="1529.1" cy="1440.2" r="4.3" fill="#222021"/>
<path d="M1562.2 1680.6 V1503.1 H1592.2 V1680.6" fill="none" stroke="#e8404b" stroke-width="1.6"/>
<line x1="1577.2" y1="1496.3" x2="1577.2" y2="1508.9" stroke="#e8404b" stroke-width="1.6"/>
<line x1="1569.5" y1="1496.3" x2="1585" y2="1496.3" stroke="#e8404b" stroke-width="1.6"/>
<line x1="1569.5" y1="1508.9" x2="1585" y2="1508.9" stroke="#e8404b" stroke-width="1.6"/>
<polygon points="1565.2,1484.6 1569.2,1492 1561.2,1492" fill="#e8404b"/>
<polygon points="1589,1482.3 1593,1489.7 1585,1489.7" fill="#e8404b"/>
<polygon points="1589,1491.6 1593,1499 1585,1499" fill="#e8404b"/>
<polygon points="1565.2,1496.1 1569.2,1503.5 1561.2,1503.5" fill="#e8404b"/>
<polygon points="1577,1514.1 1581,1521.5 1573,1521.5" fill="#e8404b"/>
<polygon points="1577,1522.9 1581,1530.3 1573,1530.3" fill="#e8404b"/>
<path d="M1609.8 1680.6 V1468 H1639.8 V1680.6" fill="none" stroke="#2b6a43" stroke-width="3"/>
<line x1="1624.8" y1="1473" x2="1624.8" y2="1480" stroke="#2b6a43" stroke-width="1.6"/>
<line x1="1617" y1="1473" x2="1632.5" y2="1473" stroke="#2b6a43" stroke-width="1.6"/>
<line x1="1617" y1="1480" x2="1632.5" y2="1480" stroke="#2b6a43" stroke-width="1.6"/>
<polygon points="1620.3,1447.9 1628.9,1447.9 1628.9,1456.5 1620.3,1456.5" fill="#2b6a43"/>
<polygon points="1620.3,1462 1628.9,1462 1628.9,1470.6 1620.3,1470.6" fill="#2b6a43"/>
<polygon points="1608.5,1468.2 1617.1,1468.2 1617.1,1476.8 1608.5,1476.8" fill="#2b6a43"/>
<polygon points="1632.3,1468.2 1640.9,1468.2 1640.9,1476.8 1632.3,1476.8" fill="#2b6a43"/>
<polygon points="1620.3,1481.3 1628.9,1481.3 1628.9,1489.9 1620.3,1489.9" fill="#2b6a43"/>
<polygon points="1620.3,1490 1628.9,1490 1628.9,1498.6 1620.3,1498.6" fill="#2b6a43"/>
<path d="M1657.4 1680.6 V1484.8 H1687.4 V1680.6" fill="none" stroke="#2e6f44" stroke-width="1.6"/>
<line x1="1672.4" y1="1473.8" x2="1672.4" y2="1494.8" stroke="#2e6f44" stroke-width="1.6"/>
<line x1="1664.7" y1="1473.8" x2="1680.2" y2="1473.8" stroke="#2e6f44" stroke-width="1.6"/>
<line x1="1664.7" y1="1494.8" x2="1680.2" y2="1494.8" stroke="#2e6f44" stroke-width="1.6"/>
<polygon points="1672.5,1431.6 1676.8,1435.9 1672.5,1440.2 1668.2,1435.9" fill="#2e6f44"/>
<polygon points="1672.5,1475.5 1676.8,1479.8 1672.5,1484.1 1668.2,1479.8" fill="#2e6f44"/>
<polygon points="1660.5,1491.3 1664.8,1495.6 1660.5,1499.9 1656.2,1495.6" fill="#2e6f44"/>
<polygon points="1684.3,1493.8 1688.6,1498.1 1684.3,1502.4 1680,1498.1" fill="#2e6f44"/>
<polygon points="1672.5,1503.8 1676.8,1508.1 1672.5,1512.4 1668.2,1508.1" fill="#2e6f44"/>
<path d="M1705.4 1680.6 V1499.8 H1735.4 V1680.6" fill="none" stroke="#2e8048" stroke-width="1.8"/>
<line x1="1720.4" y1="1495.6" x2="1720.4" y2="1502.6" stroke="#2e8048" stroke-width="1.6"/>
<line x1="1712.7" y1="1495.6" x2="1728.2" y2="1495.6" stroke="#2e8048" stroke-width="1.6"/>
<line x1="1712.7" y1="1502.6" x2="1728.2" y2="1502.6" stroke="#2e8048" stroke-width="1.6"/>
<polygon points="1712.6,1493.8 1710.6,1497.3 1706.6,1497.3 1704.6,1493.8 1706.6,1490.3 1710.6,1490.3" fill="#2e8548"/>
<polygon points="1724.1,1493.1 1722.1,1496.6 1718.1,1496.6 1716.1,1493.1 1718.1,1489.6 1722.1,1489.6" fill="#2e8548"/>
<polygon points="1735.9,1486.8 1733.9,1490.3 1729.9,1490.3 1727.9,1486.8 1729.9,1483.3 1733.9,1483.3" fill="#2e8548"/>
<polygon points="1735.9,1499.3 1733.9,1502.8 1729.9,1502.8 1727.9,1499.3 1729.9,1495.8 1733.9,1495.8" fill="#2e8548"/>
<polygon points="1729.6,1508.1 1727.6,1511.6 1723.6,1511.6 1721.6,1508.1 1723.6,1504.6 1727.6,1504.6" fill="#2e8548"/>
<polygon points="1718.3,1516.1 1716.3,1519.6 1712.3,1519.6 1710.3,1516.1 1712.3,1512.6 1716.3,1512.6" fill="#2e8548"/>
<path d="M1753.1 1680.6 V1499.8 H1783.1 V1680.6" fill="none" stroke="#2f8346" stroke-width="1.8"/>
<line x1="1768.1" y1="1489.3" x2="1768.1" y2="1506.9" stroke="#2f8346" stroke-width="1.6"/>
<line x1="1760.3" y1="1489.3" x2="1775.8" y2="1489.3" stroke="#2f8346" stroke-width="1.6"/>
<line x1="1760.3" y1="1506.9" x2="1775.8" y2="1506.9" stroke="#2f8346" stroke-width="1.6"/>
<polygon points="1756.4,1482.5 1760.4,1475.1 1752.4,1475.1" fill="#62c84c"/>
<polygon points="1780.3,1476.3 1784.3,1468.9 1776.3,1468.9" fill="#62c84c"/>
<polygon points="1768.2,1490.8 1772.2,1483.4 1764.2,1483.4" fill="#62c84c"/>
<polygon points="1768.2,1512.1 1772.2,1504.7 1764.2,1504.7" fill="#62c84c"/>
<polygon points="1780.3,1520.9 1784.3,1513.5 1776.3,1513.5" fill="#62c84c"/>
<polygon points="1756.4,1527.9 1760.4,1520.5 1752.4,1520.5" fill="#62c84c"/>
<path d="M1801 1680.6 V1488.8 H1831 V1680.6" fill="none" stroke="#3cb34e" stroke-width="2.2"/>
<line x1="1816" y1="1474.3" x2="1816" y2="1502.6" stroke="#3cb34e" stroke-width="1.6"/>
<line x1="1808.2" y1="1474.3" x2="1823.8" y2="1474.3" stroke="#3cb34e" stroke-width="1.6"/>
<line x1="1808.2" y1="1502.6" x2="1823.8" y2="1502.6" stroke="#3cb34e" stroke-width="1.6"/>
<polygon points="1812,1424.9 1820.6,1424.9 1820.6,1433.5 1812,1433.5" fill="#4cc356"/>
<polygon points="1812,1468.7 1820.6,1468.7 1820.6,1477.3 1812,1477.3" fill="#4cc356"/>
<polygon points="1799.8,1496.3 1808.4,1496.3 1808.4,1504.9 1799.8,1504.9" fill="#4cc356"/>
<polygon points="1823.6,1491.3 1832.2,1491.3 1832.2,1499.9 1823.6,1499.9" fill="#4cc356"/>
<polygon points="1823.6,1502.6 1832.2,1502.6 1832.2,1511.2 1823.6,1511.2" fill="#4cc356"/>
<polygon points="1812,1520.1 1820.6,1520.1 1820.6,1528.7 1812,1528.7" fill="#4cc356"/>
<path d="M1848.8 1680.6 V1499.8 H1878.8 V1680.6" fill="none" stroke="#4ec45a" stroke-width="1.8"/>
<line x1="1863.8" y1="1488.6" x2="1863.8" y2="1507.4" stroke="#4ec45a" stroke-width="1.6"/>
<line x1="1856" y1="1488.6" x2="1871.5" y2="1488.6" stroke="#4ec45a" stroke-width="1.6"/>
<line x1="1856" y1="1507.4" x2="1871.5" y2="1507.4" stroke="#4ec45a" stroke-width="1.6"/>
<polygon points="1863.7,1460 1868,1464.3 1863.7,1468.6 1859.4,1464.3" fill="#3fbf55"/>
<polygon points="1852.2,1483.3 1856.5,1487.6 1852.2,1491.9 1847.9,1487.6" fill="#3fbf55"/>
<polygon points="1875.5,1487.5 1879.8,1491.8 1875.5,1496.1 1871.2,1491.8" fill="#3fbf55"/>
<polygon points="1852.2,1493.8 1856.5,1498.1 1852.2,1502.4 1847.9,1498.1" fill="#3fbf55"/>
<polygon points="1863.7,1514.6 1868,1518.9 1863.7,1523.2 1859.4,1518.9" fill="#3fbf55"/>
<polygon points="1863.7,1523.4 1868,1527.7 1863.7,1532 1859.4,1527.7" fill="#3fbf55"/>
<path d="M1896.7 1680.6 V1496.3 H1926.7 V1680.6" fill="none" stroke="#a3db9b" stroke-width="1.8"/>
<line x1="1911.7" y1="1484.8" x2="1911.7" y2="1505.6" stroke="#a3db9b" stroke-width="1.6"/>
<line x1="1904" y1="1484.8" x2="1919.5" y2="1484.8" stroke="#a3db9b" stroke-width="1.6"/>
<line x1="1904" y1="1505.6" x2="1919.5" y2="1505.6" stroke="#a3db9b" stroke-width="1.6"/>
<polygon points="1911.6,1457.3 1915.4,1460.1 1914,1464.5 1909.2,1464.5 1907.8,1460.1" fill="#a9dfa0"/>
<polygon points="1911.6,1466 1915.4,1468.8 1914,1473.2 1909.2,1473.2 1907.8,1468.8" fill="#a9dfa0"/>
<polygon points="1911.6,1484.1 1915.4,1486.9 1914,1491.3 1909.2,1491.3 1907.8,1486.9" fill="#a9dfa0"/>
<polygon points="1899.8,1507.9 1903.6,1510.7 1902.2,1515.1 1897.4,1515.1 1896,1510.7" fill="#a9dfa0"/>
<polygon points="1923.6,1512.4 1927.4,1515.2 1926,1519.6 1921.2,1519.6 1919.8,1515.2" fill="#a9dfa0"/>
<polygon points="1899.8,1519.2 1903.6,1522 1902.2,1526.4 1897.4,1526.4 1896,1522" fill="#a9dfa0"/>
<line x1="1531.9" y1="1383.3" x2="1587" y2="1383.3" stroke="#222021" stroke-width="1.3"/>
<text transform="translate(1558.2,1383.5)" font-size="15" text-anchor="middle" textLength="22.5" lengthAdjust="spacing">***</text>
<line x1="1529.1" y1="1366.5" x2="1620.9" y2="1366.5" stroke="#222021" stroke-width="2"/>
<text transform="translate(1575.2,1368.5)" font-size="15" text-anchor="middle" textLength="22.5" lengthAdjust="spacing">***</text>
<line x1="1529.1" y1="1353.2" x2="1661.5" y2="1353.2" stroke="#222021" stroke-width="2"/>
<text transform="translate(1592.3,1356.5)" font-size="15" text-anchor="middle" textLength="22.5" lengthAdjust="spacing">***</text>
<line x1="1530.9" y1="1338.4" x2="1710.8" y2="1338.4" stroke="#222021" stroke-width="2"/>
<text transform="translate(1612.3,1337.5)" font-size="15" text-anchor="middle" textLength="22.5" lengthAdjust="spacing">***</text>
<line x1="1530.9" y1="1321.9" x2="1755.9" y2="1321.9" stroke="#222021" stroke-width="1.3"/>
<text transform="translate(1630.9,1321.5)" font-size="15" text-anchor="middle" textLength="22.5" lengthAdjust="spacing">***</text>
<line x1="1532.4" y1="1306.9" x2="1828.1" y2="1306.9" stroke="#222021" stroke-width="1.3"/>
<text transform="translate(1648.2,1306.7)" font-size="15" text-anchor="middle" textLength="22.5" lengthAdjust="spacing">***</text>
<line x1="1532.4" y1="1290.8" x2="1863.7" y2="1290.8" stroke="#222021" stroke-width="2"/>
<text transform="translate(1678.7,1292.7)" font-size="15" text-anchor="middle" textLength="22.5" lengthAdjust="spacing">***</text>
<line x1="1535.1" y1="1275.5" x2="1910.8" y2="1275.5" stroke="#222021" stroke-width="1.3"/>
<text transform="translate(1703.6,1275.2)" font-size="15" text-anchor="middle" textLength="22.5" lengthAdjust="spacing">***</text>
<line x1="1572.2" y1="1426.2" x2="1627.4" y2="1426.2" stroke="#222021" stroke-width="1.3"/>
<text transform="translate(1604.1,1419)" font-size="15" font-style="italic" text-anchor="middle" fill="#333">#</text>
<text transform="translate(1375.6,1482) rotate(-90)" font-size="33.3" text-anchor="middle">Cell survival rate(% of control)</text>
<text transform="translate(1301.1,1718.5) scale(0.979,1)" font-size="27.7">NSC118218  (nM)</text>
<text transform="translate(1302.9,1766.3)" font-size="27.7">Crizotinib (13μM)</text>
<text transform="translate(1529.1,1718.5)" font-size="27.7" text-anchor="middle">-</text>
<text transform="translate(1579.1,1718.5)" font-size="27.7" text-anchor="middle">-</text>
<text transform="translate(1621.3,1718.5) scale(0.963,1)" font-size="27.7" text-anchor="middle">62.5</text>
<text transform="translate(1672,1718.5) scale(0.972,1)" font-size="27.7" text-anchor="middle">125</text>
<text transform="translate(1721,1718.5) scale(0.955,1)" font-size="27.7" text-anchor="middle">250</text>
<text transform="translate(1768.8,1718.5) scale(0.972,1)" font-size="27.7" text-anchor="middle">500</text>
<text transform="translate(1823.2,1718.5) scale(0.951,1)" font-size="27.7" text-anchor="middle">1000</text>
<text transform="translate(1884.4,1718.5) scale(0.939,1)" font-size="27.7" text-anchor="middle">1250</text>
<text transform="translate(1946.4,1718.5) scale(0.926,1)" font-size="27.7" text-anchor="middle">1500</text>
<text transform="translate(1532,1766.3)" font-size="27.7" text-anchor="middle">-</text>
<text transform="translate(1577.4,1768.2)" font-size="30" text-anchor="middle" fill="#4a4a4a">+</text>
<text transform="translate(1626.6,1768.2)" font-size="30" text-anchor="middle" fill="#4a4a4a">+</text>
<text transform="translate(1675.9,1768.2)" font-size="30" text-anchor="middle" fill="#8c8c8c">+</text>
<text transform="translate(1725.2,1768.2)" font-size="30" text-anchor="middle" fill="#4a4a4a">+</text>
<text transform="translate(1774.4,1768.2)" font-size="30" text-anchor="middle" fill="#4a4a4a">+</text>
<text transform="translate(1817.4,1768.2)" font-size="30" text-anchor="middle" fill="#8c8c8c">+</text>
<text transform="translate(1865.2,1768.2)" font-size="30" text-anchor="middle" fill="#4a4a4a">+</text>
<text transform="translate(1915.2,1768.2)" font-size="30" text-anchor="middle" fill="#4a4a4a">+</text>
</svg>
</body>
</html>
